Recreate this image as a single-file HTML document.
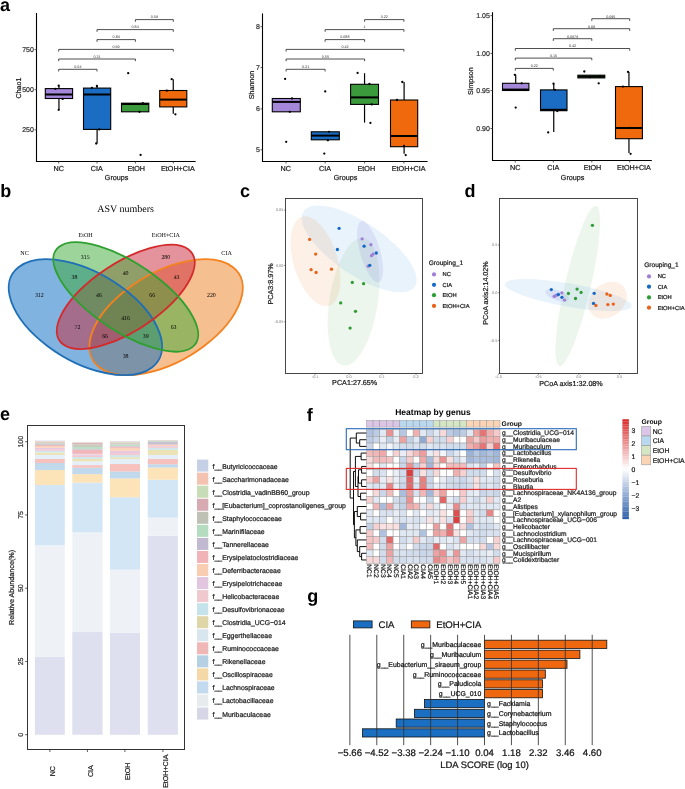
<!DOCTYPE html>
<html><head><meta charset="utf-8"><style>html,body{margin:0;padding:0;background:#fff;}svg{display:block;will-change:transform;}text{text-rendering:geometricPrecision;}</style></head>
<body><svg width="685" height="789" viewBox="0 0 685 789"><rect width="685" height="789" fill="#fff"/>
<text x="0.00" y="10.70" font-size="18" text-anchor="start" fill="#000" font-family="Liberation Sans" font-weight="bold">a</text>
<text x="0.30" y="197.30" font-size="18" text-anchor="start" fill="#000" font-family="Liberation Sans" font-weight="bold">b</text>
<text x="240.00" y="197.10" font-size="18" text-anchor="start" fill="#000" font-family="Liberation Sans" font-weight="bold">c</text>
<text x="464.60" y="196.70" font-size="18" text-anchor="start" fill="#000" font-family="Liberation Sans" font-weight="bold">d</text>
<text x="0.00" y="420.40" font-size="18" text-anchor="start" fill="#000" font-family="Liberation Sans" font-weight="bold">e</text>
<text x="306.80" y="420.50" font-size="18" text-anchor="start" fill="#000" font-family="Liberation Sans" font-weight="bold">f</text>
<text x="307.20" y="601.90" font-size="18" text-anchor="start" fill="#000" font-family="Liberation Sans" font-weight="bold">g</text>
<line x1="36.50" y1="13.00" x2="36.50" y2="162.00" stroke="#000" stroke-width="1.1"/>
<line x1="36.00" y1="161.50" x2="195.70" y2="161.50" stroke="#000" stroke-width="1.1"/>
<line x1="34.50" y1="49.60" x2="36.50" y2="49.60" stroke="#333" stroke-width="0.8"/>
<text x="33.90" y="52.10" font-size="7" text-anchor="end" fill="#333" font-family="Liberation Sans" stroke="#333" stroke-width="0.22">750</text>
<line x1="34.50" y1="89.70" x2="36.50" y2="89.70" stroke="#333" stroke-width="0.8"/>
<text x="33.90" y="92.20" font-size="7" text-anchor="end" fill="#333" font-family="Liberation Sans" stroke="#333" stroke-width="0.22">500</text>
<line x1="34.50" y1="129.90" x2="36.50" y2="129.90" stroke="#333" stroke-width="0.8"/>
<text x="33.90" y="132.40" font-size="7" text-anchor="end" fill="#333" font-family="Liberation Sans" stroke="#333" stroke-width="0.22">250</text>
<line x1="58.70" y1="161.50" x2="58.70" y2="163.50" stroke="#333" stroke-width="0.8"/>
<line x1="97.00" y1="161.50" x2="97.00" y2="163.50" stroke="#333" stroke-width="0.8"/>
<line x1="135.40" y1="161.50" x2="135.40" y2="163.50" stroke="#333" stroke-width="0.8"/>
<line x1="173.30" y1="161.50" x2="173.30" y2="163.50" stroke="#333" stroke-width="0.8"/>
<text x="58.70" y="170.50" font-size="7.2" text-anchor="middle" fill="#1a1a1a" font-family="Liberation Sans" stroke="#1a1a1a" stroke-width="0.22">NC</text>
<text x="96.80" y="170.50" font-size="7.2" text-anchor="middle" fill="#1a1a1a" font-family="Liberation Sans" stroke="#1a1a1a" stroke-width="0.22">CIA</text>
<text x="136.20" y="170.50" font-size="7.2" text-anchor="middle" fill="#1a1a1a" font-family="Liberation Sans" stroke="#1a1a1a" stroke-width="0.22">EtOH</text>
<text x="177.90" y="170.50" font-size="7.2" text-anchor="middle" fill="#1a1a1a" font-family="Liberation Sans" stroke="#1a1a1a" stroke-width="0.22">EtOH+CIA</text>
<text x="116.60" y="179.80" font-size="7.2" text-anchor="middle" fill="#1a1a1a" font-family="Liberation Sans" stroke="#1a1a1a" stroke-width="0.22">Groups</text>
<text x="20.50" y="88.00" font-size="7.1" text-anchor="middle" fill="#1a1a1a" font-family="Liberation Sans" transform="rotate(-90 20.50 88.00)" stroke="#1a1a1a" stroke-width="0.22">Chao1</text>
<line x1="58.95" y1="85.70" x2="58.95" y2="88.60" stroke="#000" stroke-width="1.2"/>
<line x1="58.95" y1="98.50" x2="58.95" y2="109.80" stroke="#000" stroke-width="1.2"/>
<rect x="45.30" y="88.60" width="27.30" height="9.90" fill="#a587d9" stroke="#000" stroke-width="1.1"/>
<line x1="45.30" y1="94.50" x2="72.60" y2="94.50" stroke="#000" stroke-width="2"/>
<line x1="97.10" y1="85.70" x2="97.10" y2="88.10" stroke="#000" stroke-width="1.2"/>
<line x1="97.10" y1="129.40" x2="97.10" y2="143.50" stroke="#000" stroke-width="1.2"/>
<rect x="83.50" y="88.10" width="27.20" height="41.30" fill="#1a6dc3" stroke="#000" stroke-width="1.1"/>
<line x1="83.50" y1="94.50" x2="110.70" y2="94.50" stroke="#000" stroke-width="2"/>
<rect x="121.50" y="103.20" width="27.30" height="8.60" fill="#3a9a3c" stroke="#000" stroke-width="1.1"/>
<line x1="121.50" y1="104.00" x2="148.80" y2="104.00" stroke="#000" stroke-width="2"/>
<line x1="173.25" y1="79.20" x2="173.25" y2="90.50" stroke="#000" stroke-width="1.2"/>
<line x1="173.25" y1="106.90" x2="173.25" y2="113.80" stroke="#000" stroke-width="1.2"/>
<rect x="159.70" y="90.50" width="27.10" height="16.40" fill="#f06a0d" stroke="#000" stroke-width="1.1"/>
<line x1="159.70" y1="99.60" x2="186.80" y2="99.60" stroke="#000" stroke-width="2"/>
<circle cx="58.70" cy="85.70" r="1.15" fill="#000"/>
<circle cx="55.40" cy="88.90" r="1.15" fill="#000"/>
<circle cx="62.70" cy="98.90" r="1.15" fill="#000"/>
<circle cx="58.70" cy="109.80" r="1.15" fill="#000"/>
<circle cx="96.90" cy="86.00" r="1.15" fill="#000"/>
<circle cx="91.90" cy="87.80" r="1.15" fill="#000"/>
<circle cx="99.30" cy="129.40" r="1.15" fill="#000"/>
<circle cx="96.20" cy="143.50" r="1.15" fill="#000"/>
<circle cx="128.20" cy="73.20" r="1.15" fill="#000"/>
<circle cx="139.50" cy="111.80" r="1.15" fill="#000"/>
<circle cx="140.60" cy="154.90" r="1.15" fill="#000"/>
<circle cx="142.80" cy="103.20" r="1.15" fill="#000"/>
<circle cx="171.70" cy="79.20" r="1.15" fill="#000"/>
<circle cx="166.80" cy="90.70" r="1.15" fill="#000"/>
<circle cx="175.40" cy="114.30" r="1.15" fill="#000"/>
<path d="M58.70 71.50V69.30H97.00V71.50" fill="none" stroke="#222" stroke-width="0.8"/>
<text x="77.85" y="68.10" font-size="3.7" text-anchor="middle" fill="#333" font-family="Liberation Sans">0.04</text>
<path d="M58.70 61.20V59.00H135.40V61.20" fill="none" stroke="#222" stroke-width="0.8"/>
<text x="97.05" y="57.80" font-size="3.7" text-anchor="middle" fill="#333" font-family="Liberation Sans">0.31</text>
<path d="M58.70 51.60V49.40H173.30V51.60" fill="none" stroke="#222" stroke-width="0.8"/>
<text x="116.00" y="48.20" font-size="3.7" text-anchor="middle" fill="#333" font-family="Liberation Sans">0.69</text>
<path d="M97.00 41.80V39.60H135.40V41.80" fill="none" stroke="#222" stroke-width="0.8"/>
<text x="116.20" y="38.40" font-size="3.7" text-anchor="middle" fill="#333" font-family="Liberation Sans">0.84</text>
<path d="M97.00 31.80V29.60H173.30V31.80" fill="none" stroke="#222" stroke-width="0.8"/>
<text x="135.15" y="28.40" font-size="3.7" text-anchor="middle" fill="#333" font-family="Liberation Sans">0.84</text>
<path d="M135.40 21.80V19.60H173.30V21.80" fill="none" stroke="#222" stroke-width="0.8"/>
<text x="154.35" y="18.40" font-size="3.7" text-anchor="middle" fill="#333" font-family="Liberation Sans">0.59</text>
<line x1="262.50" y1="13.40" x2="262.50" y2="162.00" stroke="#000" stroke-width="1.1"/>
<line x1="262.00" y1="161.50" x2="427.60" y2="161.50" stroke="#000" stroke-width="1.1"/>
<line x1="260.50" y1="26.70" x2="262.50" y2="26.70" stroke="#333" stroke-width="0.8"/>
<text x="259.90" y="29.20" font-size="7" text-anchor="end" fill="#333" font-family="Liberation Sans" stroke="#333" stroke-width="0.22">8</text>
<line x1="260.50" y1="67.60" x2="262.50" y2="67.60" stroke="#333" stroke-width="0.8"/>
<text x="259.90" y="70.10" font-size="7" text-anchor="end" fill="#333" font-family="Liberation Sans" stroke="#333" stroke-width="0.22">7</text>
<line x1="260.50" y1="108.90" x2="262.50" y2="108.90" stroke="#333" stroke-width="0.8"/>
<text x="259.90" y="111.40" font-size="7" text-anchor="end" fill="#333" font-family="Liberation Sans" stroke="#333" stroke-width="0.22">6</text>
<line x1="260.50" y1="149.80" x2="262.50" y2="149.80" stroke="#333" stroke-width="0.8"/>
<text x="259.90" y="152.30" font-size="7" text-anchor="end" fill="#333" font-family="Liberation Sans" stroke="#333" stroke-width="0.22">5</text>
<line x1="286.10" y1="161.50" x2="286.10" y2="163.50" stroke="#333" stroke-width="0.8"/>
<line x1="325.10" y1="161.50" x2="325.10" y2="163.50" stroke="#333" stroke-width="0.8"/>
<line x1="364.60" y1="161.50" x2="364.60" y2="163.50" stroke="#333" stroke-width="0.8"/>
<line x1="403.90" y1="161.50" x2="403.90" y2="163.50" stroke="#333" stroke-width="0.8"/>
<text x="285.80" y="170.50" font-size="7.2" text-anchor="middle" fill="#1a1a1a" font-family="Liberation Sans" stroke="#1a1a1a" stroke-width="0.22">NC</text>
<text x="325.00" y="170.50" font-size="7.2" text-anchor="middle" fill="#1a1a1a" font-family="Liberation Sans" stroke="#1a1a1a" stroke-width="0.22">CIA</text>
<text x="366.30" y="170.50" font-size="7.2" text-anchor="middle" fill="#1a1a1a" font-family="Liberation Sans" stroke="#1a1a1a" stroke-width="0.22">EtOH</text>
<text x="408.70" y="170.50" font-size="7.2" text-anchor="middle" fill="#1a1a1a" font-family="Liberation Sans" stroke="#1a1a1a" stroke-width="0.22">EtOH+CIA</text>
<text x="345.55" y="179.80" font-size="7.2" text-anchor="middle" fill="#1a1a1a" font-family="Liberation Sans" stroke="#1a1a1a" stroke-width="0.22">Groups</text>
<text x="253.50" y="85.00" font-size="7.1" text-anchor="middle" fill="#1a1a1a" font-family="Liberation Sans" transform="rotate(-90 253.50 85.00)" stroke="#1a1a1a" stroke-width="0.22">Shannon</text>
<rect x="272.30" y="98.50" width="28.00" height="13.30" fill="#a587d9" stroke="#000" stroke-width="1.1"/>
<line x1="272.30" y1="101.90" x2="300.30" y2="101.90" stroke="#000" stroke-width="2"/>
<rect x="311.30" y="131.80" width="28.00" height="8.00" fill="#1a6dc3" stroke="#000" stroke-width="1.1"/>
<line x1="311.30" y1="135.60" x2="339.30" y2="135.60" stroke="#000" stroke-width="2"/>
<line x1="364.55" y1="73.20" x2="364.55" y2="84.30" stroke="#000" stroke-width="1.2"/>
<line x1="364.55" y1="104.40" x2="364.55" y2="122.60" stroke="#000" stroke-width="1.2"/>
<rect x="350.60" y="84.30" width="27.90" height="20.10" fill="#3a9a3c" stroke="#000" stroke-width="1.1"/>
<line x1="350.60" y1="97.40" x2="378.50" y2="97.40" stroke="#000" stroke-width="2"/>
<line x1="404.10" y1="82.00" x2="404.10" y2="100.00" stroke="#000" stroke-width="1.2"/>
<line x1="404.10" y1="146.70" x2="404.10" y2="153.80" stroke="#000" stroke-width="1.2"/>
<rect x="390.50" y="100.00" width="27.20" height="46.70" fill="#f06a0d" stroke="#000" stroke-width="1.1"/>
<line x1="390.50" y1="136.00" x2="417.70" y2="136.00" stroke="#000" stroke-width="2"/>
<circle cx="285.10" cy="78.90" r="1.15" fill="#000"/>
<circle cx="292.00" cy="98.50" r="1.15" fill="#000"/>
<circle cx="289.80" cy="111.80" r="1.15" fill="#000"/>
<circle cx="286.20" cy="141.80" r="1.15" fill="#000"/>
<circle cx="325.20" cy="91.40" r="1.15" fill="#000"/>
<circle cx="324.30" cy="153.60" r="1.15" fill="#000"/>
<circle cx="327.90" cy="140.30" r="1.15" fill="#000"/>
<circle cx="329.00" cy="131.80" r="1.15" fill="#000"/>
<circle cx="357.60" cy="72.90" r="1.15" fill="#000"/>
<circle cx="369.40" cy="84.00" r="1.15" fill="#000"/>
<circle cx="371.70" cy="104.40" r="1.15" fill="#000"/>
<circle cx="370.40" cy="122.90" r="1.15" fill="#000"/>
<circle cx="402.30" cy="82.00" r="1.15" fill="#000"/>
<circle cx="397.00" cy="100.00" r="1.15" fill="#000"/>
<circle cx="404.00" cy="146.00" r="1.15" fill="#000"/>
<circle cx="405.70" cy="155.10" r="1.15" fill="#000"/>
<path d="M286.10 71.50V69.30H325.10V71.50" fill="none" stroke="#222" stroke-width="0.8"/>
<text x="305.60" y="68.10" font-size="3.7" text-anchor="middle" fill="#333" font-family="Liberation Sans">0.31</text>
<path d="M286.10 61.20V59.00H364.60V61.20" fill="none" stroke="#222" stroke-width="0.8"/>
<text x="325.35" y="57.80" font-size="3.7" text-anchor="middle" fill="#333" font-family="Liberation Sans">0.55</text>
<path d="M286.10 51.60V49.40H403.90V51.60" fill="none" stroke="#222" stroke-width="0.8"/>
<text x="345.00" y="48.20" font-size="3.7" text-anchor="middle" fill="#333" font-family="Liberation Sans">0.42</text>
<path d="M325.10 41.80V39.60H364.60V41.80" fill="none" stroke="#222" stroke-width="0.8"/>
<text x="344.85" y="38.40" font-size="3.7" text-anchor="middle" fill="#333" font-family="Liberation Sans">0.088</text>
<path d="M325.10 31.80V29.60H403.90V31.80" fill="none" stroke="#222" stroke-width="0.8"/>
<text x="364.50" y="28.40" font-size="3.7" text-anchor="middle" fill="#333" font-family="Liberation Sans">1</text>
<path d="M364.60 21.80V19.60H403.90V21.80" fill="none" stroke="#222" stroke-width="0.8"/>
<text x="384.25" y="18.40" font-size="3.7" text-anchor="middle" fill="#333" font-family="Liberation Sans">0.22</text>
<line x1="492.50" y1="12.20" x2="492.50" y2="161.00" stroke="#000" stroke-width="1.1"/>
<line x1="492.00" y1="160.50" x2="651.80" y2="160.50" stroke="#000" stroke-width="1.1"/>
<line x1="490.50" y1="15.60" x2="492.50" y2="15.60" stroke="#333" stroke-width="0.8"/>
<text x="489.90" y="18.10" font-size="7" text-anchor="end" fill="#333" font-family="Liberation Sans" stroke="#333" stroke-width="0.22">1.05</text>
<line x1="490.50" y1="53.40" x2="492.50" y2="53.40" stroke="#333" stroke-width="0.8"/>
<text x="489.90" y="55.90" font-size="7" text-anchor="end" fill="#333" font-family="Liberation Sans" stroke="#333" stroke-width="0.22">1.00</text>
<line x1="490.50" y1="90.50" x2="492.50" y2="90.50" stroke="#333" stroke-width="0.8"/>
<text x="489.90" y="93.00" font-size="7" text-anchor="end" fill="#333" font-family="Liberation Sans" stroke="#333" stroke-width="0.22">0.95</text>
<line x1="490.50" y1="128.50" x2="492.50" y2="128.50" stroke="#333" stroke-width="0.8"/>
<text x="489.90" y="131.00" font-size="7" text-anchor="end" fill="#333" font-family="Liberation Sans" stroke="#333" stroke-width="0.22">0.90</text>
<line x1="515.30" y1="160.50" x2="515.30" y2="162.50" stroke="#333" stroke-width="0.8"/>
<line x1="553.30" y1="160.50" x2="553.30" y2="162.50" stroke="#333" stroke-width="0.8"/>
<line x1="591.80" y1="160.50" x2="591.80" y2="162.50" stroke="#333" stroke-width="0.8"/>
<line x1="629.70" y1="160.50" x2="629.70" y2="162.50" stroke="#333" stroke-width="0.8"/>
<text x="515.30" y="169.50" font-size="7.2" text-anchor="middle" fill="#1a1a1a" font-family="Liberation Sans" stroke="#1a1a1a" stroke-width="0.22">NC</text>
<text x="553.30" y="169.50" font-size="7.2" text-anchor="middle" fill="#1a1a1a" font-family="Liberation Sans" stroke="#1a1a1a" stroke-width="0.22">CIA</text>
<text x="592.50" y="169.50" font-size="7.2" text-anchor="middle" fill="#1a1a1a" font-family="Liberation Sans" stroke="#1a1a1a" stroke-width="0.22">EtOH</text>
<text x="634.00" y="169.50" font-size="7.2" text-anchor="middle" fill="#1a1a1a" font-family="Liberation Sans" stroke="#1a1a1a" stroke-width="0.22">EtOH+CIA</text>
<text x="572.65" y="179.80" font-size="7.2" text-anchor="middle" fill="#1a1a1a" font-family="Liberation Sans" stroke="#1a1a1a" stroke-width="0.22">Groups</text>
<text x="473.50" y="81.10" font-size="7.1" text-anchor="middle" fill="#1a1a1a" font-family="Liberation Sans" transform="rotate(-90 473.50 81.10)" stroke="#1a1a1a" stroke-width="0.22">Simpson</text>
<line x1="515.70" y1="74.80" x2="515.70" y2="83.30" stroke="#000" stroke-width="1.2"/>
<rect x="502.50" y="83.30" width="26.40" height="7.20" fill="#a587d9" stroke="#000" stroke-width="1.1"/>
<line x1="502.50" y1="89.60" x2="528.90" y2="89.60" stroke="#000" stroke-width="2"/>
<line x1="553.75" y1="83.70" x2="553.75" y2="89.90" stroke="#000" stroke-width="1.2"/>
<line x1="553.75" y1="110.70" x2="553.75" y2="131.90" stroke="#000" stroke-width="1.2"/>
<rect x="540.50" y="89.90" width="26.50" height="20.80" fill="#1a6dc3" stroke="#000" stroke-width="1.1"/>
<line x1="540.50" y1="109.80" x2="567.00" y2="109.80" stroke="#000" stroke-width="2"/>
<rect x="577.90" y="75.20" width="26.90" height="2.70" fill="#3a9a3c" stroke="#000" stroke-width="1.1"/>
<line x1="577.90" y1="76.60" x2="604.80" y2="76.60" stroke="#000" stroke-width="2"/>
<line x1="628.95" y1="71.90" x2="628.95" y2="86.60" stroke="#000" stroke-width="1.2"/>
<line x1="628.95" y1="138.70" x2="628.95" y2="153.10" stroke="#000" stroke-width="1.2"/>
<rect x="615.50" y="86.60" width="26.90" height="52.10" fill="#f06a0d" stroke="#000" stroke-width="1.1"/>
<line x1="615.50" y1="128.00" x2="642.40" y2="128.00" stroke="#000" stroke-width="2"/>
<circle cx="514.80" cy="74.80" r="1.15" fill="#000"/>
<circle cx="521.70" cy="83.30" r="1.15" fill="#000"/>
<circle cx="515.70" cy="107.60" r="1.15" fill="#000"/>
<circle cx="525.00" cy="90.00" r="1.15" fill="#000"/>
<circle cx="553.50" cy="83.70" r="1.15" fill="#000"/>
<circle cx="548.20" cy="132.40" r="1.15" fill="#000"/>
<circle cx="557.30" cy="111.00" r="1.15" fill="#000"/>
<circle cx="555.00" cy="89.90" r="1.15" fill="#000"/>
<circle cx="584.30" cy="71.50" r="1.15" fill="#000"/>
<circle cx="598.70" cy="83.30" r="1.15" fill="#000"/>
<circle cx="600.00" cy="76.50" r="1.15" fill="#000"/>
<circle cx="590.00" cy="77.00" r="1.15" fill="#000"/>
<circle cx="628.00" cy="71.90" r="1.15" fill="#000"/>
<circle cx="622.90" cy="86.60" r="1.15" fill="#000"/>
<circle cx="630.60" cy="153.80" r="1.15" fill="#000"/>
<circle cx="630.00" cy="128.00" r="1.15" fill="#000"/>
<path d="M515.30 70.60V68.40H553.30V70.60" fill="none" stroke="#222" stroke-width="0.8"/>
<text x="534.30" y="67.20" font-size="3.7" text-anchor="middle" fill="#333" font-family="Liberation Sans">0.22</text>
<path d="M515.30 60.30V58.10H591.80V60.30" fill="none" stroke="#222" stroke-width="0.8"/>
<text x="553.55" y="56.90" font-size="3.7" text-anchor="middle" fill="#333" font-family="Liberation Sans">0.15</text>
<path d="M515.30 50.70V48.50H629.70V50.70" fill="none" stroke="#222" stroke-width="0.8"/>
<text x="572.50" y="47.30" font-size="3.7" text-anchor="middle" fill="#333" font-family="Liberation Sans">0.42</text>
<path d="M553.30 40.90V38.70H591.80V40.90" fill="none" stroke="#222" stroke-width="0.8"/>
<text x="572.55" y="37.50" font-size="3.7" text-anchor="middle" fill="#333" font-family="Liberation Sans">0.0079</text>
<path d="M553.30 30.90V28.70H629.70V30.90" fill="none" stroke="#222" stroke-width="0.8"/>
<text x="591.50" y="27.50" font-size="3.7" text-anchor="middle" fill="#333" font-family="Liberation Sans">0.69</text>
<path d="M591.80 20.90V18.70H629.70V20.90" fill="none" stroke="#222" stroke-width="0.8"/>
<text x="610.75" y="17.50" font-size="3.7" text-anchor="middle" fill="#333" font-family="Liberation Sans">0.095</text>
<g transform="translate(-8.75 412.6) scale(269.0 -203.0)"><ellipse cx="0.65" cy="0.47" rx="0.35" ry="0.2" transform="rotate(45 0.65 0.47)" fill="#ee7f22" fill-opacity="0.5"/></g>
<g transform="translate(-8.75 412.6) scale(269.0 -203.0)"><ellipse cx="0.35" cy="0.47" rx="0.35" ry="0.2" transform="rotate(135 0.35 0.47)" fill="#0268c0" fill-opacity="0.5"/></g>
<g transform="translate(-8.75 412.6) scale(269.0 -203.0)"><ellipse cx="0.5" cy="0.57" rx="0.33" ry="0.15" transform="rotate(45 0.5 0.57)" fill="#c9283a" fill-opacity="0.5"/></g>
<g transform="translate(-8.75 412.6) scale(269.0 -203.0)"><ellipse cx="0.5" cy="0.57" rx="0.35" ry="0.15" transform="rotate(135 0.5 0.57)" fill="#3ba936" fill-opacity="0.5"/></g>
<g transform="translate(-8.75 412.6) scale(269.0 -203.0)"><ellipse cx="0.65" cy="0.47" rx="0.35" ry="0.2" transform="rotate(45 0.65 0.47)" fill="none" stroke="#f4821e" stroke-width="1.85" vector-effect="non-scaling-stroke"/></g>
<g transform="translate(-8.75 412.6) scale(269.0 -203.0)"><ellipse cx="0.35" cy="0.47" rx="0.35" ry="0.2" transform="rotate(135 0.35 0.47)" fill="none" stroke="#1f6fb8" stroke-width="1.85" vector-effect="non-scaling-stroke"/></g>
<g transform="translate(-8.75 412.6) scale(269.0 -203.0)"><ellipse cx="0.5" cy="0.57" rx="0.33" ry="0.15" transform="rotate(45 0.5 0.57)" fill="none" stroke="#d42a2c" stroke-width="1.85" vector-effect="non-scaling-stroke"/></g>
<g transform="translate(-8.75 412.6) scale(269.0 -203.0)"><ellipse cx="0.5" cy="0.57" rx="0.35" ry="0.15" transform="rotate(135 0.5 0.57)" fill="none" stroke="#2fa02f" stroke-width="1.85" vector-effect="non-scaling-stroke"/></g>
<text x="125.60" y="212.30" font-size="10" text-anchor="middle" fill="#000" font-family="Liberation Serif">ASV numbers</text>
<text x="24.60" y="255.00" font-size="6.1" text-anchor="middle" fill="#000" font-family="Liberation Serif">NC</text>
<text x="85.60" y="237.30" font-size="6.1" text-anchor="middle" fill="#000" font-family="Liberation Serif">EtOH</text>
<text x="165.80" y="237.30" font-size="6.1" text-anchor="middle" fill="#000" font-family="Liberation Serif">EtOH+CIA</text>
<text x="226.60" y="255.00" font-size="6.1" text-anchor="middle" fill="#000" font-family="Liberation Serif">CIA</text>
<text x="85.20" y="259.10" font-size="5.9" text-anchor="middle" fill="#000" font-family="Liberation Serif">315</text>
<text x="165.80" y="259.10" font-size="5.9" text-anchor="middle" fill="#000" font-family="Liberation Serif">280</text>
<text x="39.30" y="297.20" font-size="5.9" text-anchor="middle" fill="#000" font-family="Liberation Serif">312</text>
<text x="211.40" y="297.20" font-size="5.9" text-anchor="middle" fill="#000" font-family="Liberation Serif">220</text>
<text x="74.40" y="279.00" font-size="5.9" text-anchor="middle" fill="#000" font-family="Liberation Serif">38</text>
<text x="125.60" y="275.20" font-size="5.9" text-anchor="middle" fill="#000" font-family="Liberation Serif">40</text>
<text x="176.60" y="279.00" font-size="5.9" text-anchor="middle" fill="#000" font-family="Liberation Serif">43</text>
<text x="99.00" y="297.20" font-size="5.9" text-anchor="middle" fill="#000" font-family="Liberation Serif">46</text>
<text x="152.20" y="297.20" font-size="5.9" text-anchor="middle" fill="#000" font-family="Liberation Serif">66</text>
<text x="125.60" y="319.60" font-size="5.9" text-anchor="middle" fill="#000" font-family="Liberation Serif">416</text>
<text x="77.40" y="329.40" font-size="5.9" text-anchor="middle" fill="#000" font-family="Liberation Serif">72</text>
<text x="173.60" y="329.40" font-size="5.9" text-anchor="middle" fill="#000" font-family="Liberation Serif">63</text>
<text x="105.10" y="337.80" font-size="5.9" text-anchor="middle" fill="#000" font-family="Liberation Serif">66</text>
<text x="145.80" y="337.80" font-size="5.9" text-anchor="middle" fill="#000" font-family="Liberation Serif">39</text>
<text x="125.60" y="357.90" font-size="5.9" text-anchor="middle" fill="#000" font-family="Liberation Serif">38</text>
<rect x="285.50" y="198.50" width="137.00" height="175.00" fill="#fff" stroke="none" stroke-width="0"/>
<ellipse cx="359.10" cy="248.90" rx="67.20" ry="26.00" transform="rotate(34.1 359.10 248.90)" fill="#2a86e0" stroke="none" stroke-width="0" fill-opacity="0.1"/>
<ellipse cx="315.50" cy="261.20" rx="46.40" ry="22.00" transform="rotate(73.4 315.50 261.20)" fill="#f06a0d" stroke="none" stroke-width="0" fill-opacity="0.1"/>
<ellipse cx="353.50" cy="301.75" rx="64.60" ry="24.20" transform="rotate(-81.1 353.50 301.75)" fill="#3a9a3c" stroke="none" stroke-width="0" fill-opacity="0.09"/>
<ellipse cx="370.10" cy="251.70" rx="31.80" ry="10.00" transform="rotate(73.9 370.10 251.70)" fill="#6d5fd0" stroke="none" stroke-width="0" fill-opacity="0.12"/>
<circle cx="362.10" cy="238.80" r="1.65" fill="#9f80d6"/>
<circle cx="370.90" cy="244.70" r="1.65" fill="#9f80d6"/>
<circle cx="371.50" cy="255.70" r="1.65" fill="#9f80d6"/>
<circle cx="373.10" cy="254.10" r="1.65" fill="#9f80d6"/>
<circle cx="368.20" cy="266.20" r="1.65" fill="#9f80d6"/>
<circle cx="339.10" cy="228.30" r="1.65" fill="#1569c7"/>
<circle cx="337.40" cy="249.50" r="1.65" fill="#1569c7"/>
<circle cx="364.10" cy="246.20" r="1.65" fill="#1569c7"/>
<circle cx="376.30" cy="253.00" r="1.65" fill="#1569c7"/>
<circle cx="369.80" cy="265.30" r="1.65" fill="#1569c7"/>
<circle cx="352.30" cy="282.40" r="1.65" fill="#2e9c35"/>
<circle cx="363.60" cy="283.70" r="1.65" fill="#2e9c35"/>
<circle cx="340.70" cy="302.90" r="1.65" fill="#2e9c35"/>
<circle cx="355.50" cy="311.30" r="1.65" fill="#2e9c35"/>
<circle cx="350.10" cy="328.10" r="1.65" fill="#2e9c35"/>
<circle cx="309.60" cy="239.40" r="1.65" fill="#e8621a"/>
<circle cx="315.70" cy="254.10" r="1.65" fill="#e8621a"/>
<circle cx="311.10" cy="269.70" r="1.65" fill="#e8621a"/>
<circle cx="316.10" cy="272.50" r="1.65" fill="#e8621a"/>
<circle cx="331.50" cy="269.20" r="1.65" fill="#e8621a"/>
<rect x="285.50" y="198.50" width="137.00" height="175.00" fill="none" stroke="#333" stroke-width="0.9"/>
<line x1="284.00" y1="210.00" x2="285.50" y2="210.00" stroke="#333" stroke-width="0.5"/>
<text x="283.30" y="211.40" font-size="3.8" text-anchor="end" fill="#777" font-family="Liberation Sans">0.05</text>
<line x1="284.00" y1="265.50" x2="285.50" y2="265.50" stroke="#333" stroke-width="0.5"/>
<text x="283.30" y="266.90" font-size="3.8" text-anchor="end" fill="#777" font-family="Liberation Sans">0.00</text>
<line x1="284.00" y1="321.70" x2="285.50" y2="321.70" stroke="#333" stroke-width="0.5"/>
<text x="283.30" y="323.10" font-size="3.8" text-anchor="end" fill="#777" font-family="Liberation Sans">-0.05</text>
<line x1="315.20" y1="373.50" x2="315.20" y2="375.00" stroke="#333" stroke-width="0.5"/>
<text x="315.20" y="378.30" font-size="3.8" text-anchor="middle" fill="#777" font-family="Liberation Sans">-0.1</text>
<line x1="349.00" y1="373.50" x2="349.00" y2="375.00" stroke="#333" stroke-width="0.5"/>
<text x="349.00" y="378.30" font-size="3.8" text-anchor="middle" fill="#777" font-family="Liberation Sans">0.0</text>
<line x1="382.00" y1="373.50" x2="382.00" y2="375.00" stroke="#333" stroke-width="0.5"/>
<text x="382.00" y="378.30" font-size="3.8" text-anchor="middle" fill="#777" font-family="Liberation Sans">0.1</text>
<line x1="416.00" y1="373.50" x2="416.00" y2="375.00" stroke="#333" stroke-width="0.5"/>
<text x="416.00" y="378.30" font-size="3.8" text-anchor="middle" fill="#777" font-family="Liberation Sans">0.2</text>
<text x="272.80" y="284.00" font-size="7.2" text-anchor="middle" fill="#1a1a1a" font-family="Liberation Sans" transform="rotate(-90 272.80 284.00)" stroke="#1a1a1a" stroke-width="0.22">PCA3:8.97%</text>
<text x="354.70" y="385.00" font-size="7.2" text-anchor="middle" fill="#1a1a1a" font-family="Liberation Sans" stroke="#1a1a1a" stroke-width="0.22">PCA1:27.65%</text>
<text x="428.70" y="264.80" font-size="6.6" text-anchor="start" fill="#1a1a1a" font-family="Liberation Sans" stroke="#1a1a1a" stroke-width="0.22">Grouping_1</text>
<circle cx="434.00" cy="274.40" r="2.1" fill="#9f80d6"/>
<text x="442.50" y="276.40" font-size="5.75" text-anchor="start" fill="#1a1a1a" font-family="Liberation Sans" stroke="#1a1a1a" stroke-width="0.22">NC</text>
<circle cx="434.00" cy="284.80" r="2.1" fill="#1569c7"/>
<text x="442.50" y="286.80" font-size="5.75" text-anchor="start" fill="#1a1a1a" font-family="Liberation Sans" stroke="#1a1a1a" stroke-width="0.22">CIA</text>
<circle cx="434.00" cy="295.20" r="2.1" fill="#2e9c35"/>
<text x="442.50" y="297.20" font-size="5.75" text-anchor="start" fill="#1a1a1a" font-family="Liberation Sans" stroke="#1a1a1a" stroke-width="0.22">EtOH</text>
<circle cx="434.00" cy="305.90" r="2.1" fill="#e8621a"/>
<text x="442.50" y="307.90" font-size="5.75" text-anchor="start" fill="#1a1a1a" font-family="Liberation Sans" stroke="#1a1a1a" stroke-width="0.22">EtOH+CIA</text>
<rect x="499.50" y="198.50" width="138.00" height="175.00" fill="#fff" stroke="none" stroke-width="0"/>
<ellipse cx="568.25" cy="295.05" rx="64.30" ry="11.65" transform="rotate(10.05 568.25 295.05)" fill="#2a86e0" stroke="none" stroke-width="0" fill-opacity="0.1"/>
<ellipse cx="577.75" cy="285.95" rx="82.20" ry="12.90" transform="rotate(-77.05 577.75 285.95)" fill="#3a9a3c" stroke="none" stroke-width="0" fill-opacity="0.09"/>
<ellipse cx="607.65" cy="300.25" rx="21.00" ry="16.50" transform="rotate(-40 607.65 300.25)" fill="#f06a0d" stroke="none" stroke-width="0" fill-opacity="0.1"/>
<ellipse cx="557.20" cy="295.40" rx="12.50" ry="5.00" transform="rotate(20 557.20 295.40)" fill="#6d5fd0" stroke="none" stroke-width="0" fill-opacity="0.12"/>
<circle cx="555.10" cy="295.90" r="1.65" fill="#9f80d6"/>
<circle cx="556.50" cy="295.20" r="1.65" fill="#9f80d6"/>
<circle cx="561.90" cy="292.80" r="1.65" fill="#9f80d6"/>
<circle cx="564.50" cy="300.10" r="1.65" fill="#9f80d6"/>
<circle cx="554.10" cy="296.40" r="1.65" fill="#9f80d6"/>
<circle cx="551.30" cy="289.60" r="1.65" fill="#1569c7"/>
<circle cx="558.40" cy="294.50" r="1.65" fill="#1569c7"/>
<circle cx="561.90" cy="297.30" r="1.65" fill="#1569c7"/>
<circle cx="594.20" cy="293.30" r="1.65" fill="#1569c7"/>
<circle cx="593.50" cy="303.40" r="1.65" fill="#1569c7"/>
<circle cx="592.40" cy="225.30" r="1.65" fill="#2e9c35"/>
<circle cx="568.40" cy="293.50" r="1.65" fill="#2e9c35"/>
<circle cx="577.10" cy="289.10" r="1.65" fill="#2e9c35"/>
<circle cx="581.10" cy="292.40" r="1.65" fill="#2e9c35"/>
<circle cx="575.50" cy="298.50" r="1.65" fill="#2e9c35"/>
<circle cx="606.90" cy="294.00" r="1.65" fill="#e8621a"/>
<circle cx="610.20" cy="295.40" r="1.65" fill="#e8621a"/>
<circle cx="595.90" cy="305.50" r="1.65" fill="#e8621a"/>
<circle cx="607.90" cy="304.60" r="1.65" fill="#e8621a"/>
<circle cx="613.30" cy="304.10" r="1.65" fill="#e8621a"/>
<rect x="499.50" y="198.50" width="138.00" height="175.00" fill="none" stroke="#333" stroke-width="0.9"/>
<line x1="498.00" y1="245.00" x2="499.50" y2="245.00" stroke="#333" stroke-width="0.5"/>
<text x="497.30" y="246.40" font-size="3.8" text-anchor="end" fill="#777" font-family="Liberation Sans">0.5</text>
<line x1="498.00" y1="292.80" x2="499.50" y2="292.80" stroke="#333" stroke-width="0.5"/>
<text x="497.30" y="294.20" font-size="3.8" text-anchor="end" fill="#777" font-family="Liberation Sans">0.0</text>
<line x1="498.00" y1="340.50" x2="499.50" y2="340.50" stroke="#333" stroke-width="0.5"/>
<text x="497.30" y="341.90" font-size="3.8" text-anchor="end" fill="#777" font-family="Liberation Sans">-0.5</text>
<line x1="498.50" y1="373.50" x2="498.50" y2="375.00" stroke="#333" stroke-width="0.5"/>
<text x="498.50" y="378.30" font-size="3.8" text-anchor="middle" fill="#777" font-family="Liberation Sans">-1.0</text>
<line x1="538.40" y1="373.50" x2="538.40" y2="375.00" stroke="#333" stroke-width="0.5"/>
<text x="538.40" y="378.30" font-size="3.8" text-anchor="middle" fill="#777" font-family="Liberation Sans">-0.5</text>
<line x1="578.80" y1="373.50" x2="578.80" y2="375.00" stroke="#333" stroke-width="0.5"/>
<text x="578.80" y="378.30" font-size="3.8" text-anchor="middle" fill="#777" font-family="Liberation Sans">0.0</text>
<line x1="619.40" y1="373.50" x2="619.40" y2="375.00" stroke="#333" stroke-width="0.5"/>
<text x="619.40" y="378.30" font-size="3.8" text-anchor="middle" fill="#777" font-family="Liberation Sans">0.5</text>
<text x="488.30" y="293.00" font-size="7.2" text-anchor="middle" fill="#1a1a1a" font-family="Liberation Sans" transform="rotate(-90 488.30 293.00)" stroke="#1a1a1a" stroke-width="0.22">PCoA axis2:14.02%</text>
<text x="571.00" y="386.00" font-size="7.2" text-anchor="middle" fill="#1a1a1a" font-family="Liberation Sans" stroke="#1a1a1a" stroke-width="0.22">PCoA axis1:32.08%</text>
<text x="644.20" y="267.20" font-size="6.6" text-anchor="start" fill="#1a1a1a" font-family="Liberation Sans" stroke="#1a1a1a" stroke-width="0.22">Grouping_1</text>
<circle cx="649.00" cy="276.40" r="2.1" fill="#9f80d6"/>
<text x="657.70" y="278.40" font-size="5.75" text-anchor="start" fill="#1a1a1a" font-family="Liberation Sans" stroke="#1a1a1a" stroke-width="0.22">NC</text>
<circle cx="649.00" cy="286.70" r="2.1" fill="#1569c7"/>
<text x="657.70" y="288.70" font-size="5.75" text-anchor="start" fill="#1a1a1a" font-family="Liberation Sans" stroke="#1a1a1a" stroke-width="0.22">CIA</text>
<circle cx="649.00" cy="297.40" r="2.1" fill="#2e9c35"/>
<text x="657.70" y="299.40" font-size="5.75" text-anchor="start" fill="#1a1a1a" font-family="Liberation Sans" stroke="#1a1a1a" stroke-width="0.22">EtOH</text>
<circle cx="649.00" cy="307.70" r="2.1" fill="#e8621a"/>
<text x="657.70" y="309.70" font-size="5.75" text-anchor="start" fill="#1a1a1a" font-family="Liberation Sans" stroke="#1a1a1a" stroke-width="0.22">EtOH+CIA</text>
<rect x="34.90" y="656.80" width="29.90" height="77.95" fill="#dfe0ef" stroke="none" stroke-width="0"/>
<rect x="34.90" y="545.00" width="29.90" height="111.85" fill="#eef2f7" stroke="none" stroke-width="0"/>
<rect x="34.90" y="485.00" width="29.90" height="60.05" fill="#d3e6f6" stroke="none" stroke-width="0"/>
<rect x="34.90" y="470.00" width="29.90" height="15.05" fill="#fde3b8" stroke="none" stroke-width="0"/>
<rect x="34.90" y="463.00" width="29.90" height="7.05" fill="#c0d9ec" stroke="none" stroke-width="0"/>
<rect x="34.90" y="458.90" width="29.90" height="4.15" fill="#f7c2bd" stroke="none" stroke-width="0"/>
<rect x="34.90" y="454.90" width="29.90" height="4.05" fill="#e4eff9" stroke="none" stroke-width="0"/>
<rect x="34.90" y="452.50" width="29.90" height="2.45" fill="#ece3b5" stroke="none" stroke-width="0"/>
<rect x="34.90" y="450.80" width="29.90" height="1.75" fill="#cfe8ec" stroke="none" stroke-width="0"/>
<rect x="34.90" y="449.20" width="29.90" height="1.65" fill="#f3c8cf" stroke="none" stroke-width="0"/>
<rect x="34.90" y="447.80" width="29.90" height="1.45" fill="#e6c8e3" stroke="none" stroke-width="0"/>
<rect x="34.90" y="446.10" width="29.90" height="1.75" fill="#fbd3bb" stroke="none" stroke-width="0"/>
<rect x="34.90" y="445.00" width="29.90" height="1.15" fill="#f0b7bb" stroke="none" stroke-width="0"/>
<rect x="34.90" y="444.20" width="29.90" height="0.85" fill="#c9bfd2" stroke="none" stroke-width="0"/>
<rect x="34.90" y="443.60" width="29.90" height="0.65" fill="#bfdfc8" stroke="none" stroke-width="0"/>
<rect x="34.90" y="443.00" width="29.90" height="0.65" fill="#c5cdbf" stroke="none" stroke-width="0"/>
<rect x="34.90" y="442.30" width="29.90" height="0.75" fill="#dcb3b9" stroke="none" stroke-width="0"/>
<rect x="34.90" y="441.70" width="29.90" height="0.65" fill="#cfe0bf" stroke="none" stroke-width="0"/>
<rect x="34.90" y="441.10" width="29.90" height="0.65" fill="#f6cbb9" stroke="none" stroke-width="0"/>
<rect x="34.90" y="440.60" width="29.90" height="0.55" fill="#cdd6ea" stroke="none" stroke-width="0"/>
<rect x="72.30" y="632.00" width="30.30" height="102.75" fill="#dfe0ef" stroke="none" stroke-width="0"/>
<rect x="72.30" y="532.20" width="30.30" height="99.85" fill="#eef2f7" stroke="none" stroke-width="0"/>
<rect x="72.30" y="482.60" width="30.30" height="49.65" fill="#d3e6f6" stroke="none" stroke-width="0"/>
<rect x="72.30" y="474.10" width="30.30" height="8.55" fill="#fde3b8" stroke="none" stroke-width="0"/>
<rect x="72.30" y="467.70" width="30.30" height="6.45" fill="#c0d9ec" stroke="none" stroke-width="0"/>
<rect x="72.30" y="465.10" width="30.30" height="2.65" fill="#f7c2bd" stroke="none" stroke-width="0"/>
<rect x="72.30" y="461.30" width="30.30" height="3.85" fill="#e4eff9" stroke="none" stroke-width="0"/>
<rect x="72.30" y="458.90" width="30.30" height="2.45" fill="#ece3b5" stroke="none" stroke-width="0"/>
<rect x="72.30" y="457.00" width="30.30" height="1.95" fill="#cfe8ec" stroke="none" stroke-width="0"/>
<rect x="72.30" y="455.80" width="30.30" height="1.25" fill="#f3c8cf" stroke="none" stroke-width="0"/>
<rect x="72.30" y="454.30" width="30.30" height="1.55" fill="#e6c8e3" stroke="none" stroke-width="0"/>
<rect x="72.30" y="453.80" width="30.30" height="0.55" fill="#fbd3bb" stroke="none" stroke-width="0"/>
<rect x="72.30" y="449.60" width="30.30" height="4.25" fill="#f0b7bb" stroke="none" stroke-width="0"/>
<rect x="72.30" y="449.00" width="30.30" height="0.65" fill="#c9bfd2" stroke="none" stroke-width="0"/>
<rect x="72.30" y="447.00" width="30.30" height="2.05" fill="#bfdfc8" stroke="none" stroke-width="0"/>
<rect x="72.30" y="444.30" width="30.30" height="2.75" fill="#c5cdbf" stroke="none" stroke-width="0"/>
<rect x="72.30" y="443.00" width="30.30" height="1.35" fill="#dcb3b9" stroke="none" stroke-width="0"/>
<rect x="72.30" y="442.60" width="30.30" height="0.45" fill="#cfe0bf" stroke="none" stroke-width="0"/>
<rect x="72.30" y="442.20" width="30.30" height="0.45" fill="#f6cbb9" stroke="none" stroke-width="0"/>
<rect x="72.30" y="442.00" width="30.30" height="0.25" fill="#cdd6ea" stroke="none" stroke-width="0"/>
<rect x="109.90" y="632.80" width="30.10" height="101.95" fill="#dfe0ef" stroke="none" stroke-width="0"/>
<rect x="109.90" y="569.60" width="30.10" height="63.25" fill="#eef2f7" stroke="none" stroke-width="0"/>
<rect x="109.90" y="497.20" width="30.10" height="72.45" fill="#d3e6f6" stroke="none" stroke-width="0"/>
<rect x="109.90" y="478.40" width="30.10" height="18.85" fill="#fde3b8" stroke="none" stroke-width="0"/>
<rect x="109.90" y="471.40" width="30.10" height="7.05" fill="#c0d9ec" stroke="none" stroke-width="0"/>
<rect x="109.90" y="464.00" width="30.10" height="7.45" fill="#f7c2bd" stroke="none" stroke-width="0"/>
<rect x="109.90" y="458.90" width="30.10" height="5.15" fill="#e4eff9" stroke="none" stroke-width="0"/>
<rect x="109.90" y="457.20" width="30.10" height="1.75" fill="#ece3b5" stroke="none" stroke-width="0"/>
<rect x="109.90" y="455.10" width="30.10" height="2.15" fill="#cfe8ec" stroke="none" stroke-width="0"/>
<rect x="109.90" y="453.10" width="30.10" height="2.05" fill="#f3c8cf" stroke="none" stroke-width="0"/>
<rect x="109.90" y="450.80" width="30.10" height="2.35" fill="#e6c8e3" stroke="none" stroke-width="0"/>
<rect x="109.90" y="447.80" width="30.10" height="3.05" fill="#fbd3bb" stroke="none" stroke-width="0"/>
<rect x="109.90" y="446.50" width="30.10" height="1.35" fill="#f0b7bb" stroke="none" stroke-width="0"/>
<rect x="109.90" y="446.00" width="30.10" height="0.55" fill="#c9bfd2" stroke="none" stroke-width="0"/>
<rect x="109.90" y="444.50" width="30.10" height="1.55" fill="#bfdfc8" stroke="none" stroke-width="0"/>
<rect x="109.90" y="443.50" width="30.10" height="1.05" fill="#c5cdbf" stroke="none" stroke-width="0"/>
<rect x="109.90" y="442.70" width="30.10" height="0.85" fill="#dcb3b9" stroke="none" stroke-width="0"/>
<rect x="109.90" y="442.00" width="30.10" height="0.75" fill="#cfe0bf" stroke="none" stroke-width="0"/>
<rect x="109.90" y="441.50" width="30.10" height="0.55" fill="#f6cbb9" stroke="none" stroke-width="0"/>
<rect x="109.90" y="441.10" width="30.10" height="0.45" fill="#cdd6ea" stroke="none" stroke-width="0"/>
<rect x="147.80" y="535.70" width="30.10" height="199.05" fill="#dfe0ef" stroke="none" stroke-width="0"/>
<rect x="147.80" y="517.60" width="30.10" height="18.15" fill="#eef2f7" stroke="none" stroke-width="0"/>
<rect x="147.80" y="479.70" width="30.10" height="37.95" fill="#d3e6f6" stroke="none" stroke-width="0"/>
<rect x="147.80" y="467.50" width="30.10" height="12.25" fill="#fde3b8" stroke="none" stroke-width="0"/>
<rect x="147.80" y="464.20" width="30.10" height="3.35" fill="#c0d9ec" stroke="none" stroke-width="0"/>
<rect x="147.80" y="458.90" width="30.10" height="5.35" fill="#f7c2bd" stroke="none" stroke-width="0"/>
<rect x="147.80" y="454.90" width="30.10" height="4.05" fill="#e4eff9" stroke="none" stroke-width="0"/>
<rect x="147.80" y="449.90" width="30.10" height="5.05" fill="#ece3b5" stroke="none" stroke-width="0"/>
<rect x="147.80" y="447.80" width="30.10" height="2.15" fill="#cfe8ec" stroke="none" stroke-width="0"/>
<rect x="147.80" y="446.90" width="30.10" height="0.95" fill="#f3c8cf" stroke="none" stroke-width="0"/>
<rect x="147.80" y="446.10" width="30.10" height="0.85" fill="#e6c8e3" stroke="none" stroke-width="0"/>
<rect x="147.80" y="444.90" width="30.10" height="1.25" fill="#fbd3bb" stroke="none" stroke-width="0"/>
<rect x="147.80" y="444.50" width="30.10" height="0.45" fill="#f0b7bb" stroke="none" stroke-width="0"/>
<rect x="147.80" y="442.00" width="30.10" height="2.55" fill="#c9bfd2" stroke="none" stroke-width="0"/>
<rect x="147.80" y="441.20" width="30.10" height="0.85" fill="#bfdfc8" stroke="none" stroke-width="0"/>
<rect x="147.80" y="440.90" width="30.10" height="0.35" fill="#c5cdbf" stroke="none" stroke-width="0"/>
<rect x="147.80" y="440.60" width="30.10" height="0.35" fill="#dcb3b9" stroke="none" stroke-width="0"/>
<rect x="147.80" y="440.50" width="30.10" height="0.15" fill="#cfe0bf" stroke="none" stroke-width="0"/>
<rect x="147.80" y="440.40" width="30.10" height="0.15" fill="#f6cbb9" stroke="none" stroke-width="0"/>
<rect x="147.80" y="440.30" width="30.10" height="0.15" fill="#cdd6ea" stroke="none" stroke-width="0"/>
<rect x="27.50" y="425.50" width="157.00" height="324.00" fill="none" stroke="#333" stroke-width="1"/>
<line x1="25.20" y1="734.70" x2="27.50" y2="734.70" stroke="#333" stroke-width="0.8"/>
<text x="23.00" y="734.70" font-size="7" text-anchor="middle" fill="#333" font-family="Liberation Sans" transform="rotate(-90 23.00 734.70)" stroke="#333" stroke-width="0.22">0</text>
<line x1="25.20" y1="661.45" x2="27.50" y2="661.45" stroke="#333" stroke-width="0.8"/>
<text x="23.00" y="661.45" font-size="7" text-anchor="middle" fill="#333" font-family="Liberation Sans" transform="rotate(-90 23.00 661.45)" stroke="#333" stroke-width="0.22">25</text>
<line x1="25.20" y1="588.20" x2="27.50" y2="588.20" stroke="#333" stroke-width="0.8"/>
<text x="23.00" y="588.20" font-size="7" text-anchor="middle" fill="#333" font-family="Liberation Sans" transform="rotate(-90 23.00 588.20)" stroke="#333" stroke-width="0.22">50</text>
<line x1="25.20" y1="514.95" x2="27.50" y2="514.95" stroke="#333" stroke-width="0.8"/>
<text x="23.00" y="514.95" font-size="7" text-anchor="middle" fill="#333" font-family="Liberation Sans" transform="rotate(-90 23.00 514.95)" stroke="#333" stroke-width="0.22">75</text>
<line x1="25.20" y1="441.70" x2="27.50" y2="441.70" stroke="#333" stroke-width="0.8"/>
<text x="23.00" y="441.70" font-size="7" text-anchor="middle" fill="#333" font-family="Liberation Sans" transform="rotate(-90 23.00 441.70)" stroke="#333" stroke-width="0.22">100</text>
<line x1="49.90" y1="749.40" x2="49.90" y2="752.00" stroke="#333" stroke-width="0.8"/>
<line x1="87.40" y1="749.40" x2="87.40" y2="752.00" stroke="#333" stroke-width="0.8"/>
<line x1="124.90" y1="749.40" x2="124.90" y2="752.00" stroke="#333" stroke-width="0.8"/>
<line x1="162.90" y1="749.40" x2="162.90" y2="752.00" stroke="#333" stroke-width="0.8"/>
<text x="55.20" y="771.20" font-size="7.1" text-anchor="middle" fill="#1a1a1a" font-family="Liberation Sans" transform="rotate(-90 55.20 771.20)" stroke="#1a1a1a" stroke-width="0.22">NC</text>
<text x="92.70" y="771.20" font-size="7.1" text-anchor="middle" fill="#1a1a1a" font-family="Liberation Sans" transform="rotate(-90 92.70 771.20)" stroke="#1a1a1a" stroke-width="0.22">CIA</text>
<text x="130.10" y="771.20" font-size="7.1" text-anchor="middle" fill="#1a1a1a" font-family="Liberation Sans" transform="rotate(-90 130.10 771.20)" stroke="#1a1a1a" stroke-width="0.22">EtOH</text>
<text x="168.10" y="771.20" font-size="7.1" text-anchor="middle" fill="#1a1a1a" font-family="Liberation Sans" transform="rotate(-90 168.10 771.20)" stroke="#1a1a1a" stroke-width="0.22">EtOH+CIA</text>
<text x="14.20" y="587.50" font-size="7.2" text-anchor="middle" fill="#1a1a1a" font-family="Liberation Sans" transform="rotate(-90 14.20 587.50)" stroke="#1a1a1a" stroke-width="0.22">Relative Abundance(%)</text>
<rect x="197.00" y="459.60" width="11.30" height="12.00" fill="#c5d0e6" stroke="none" stroke-width="0"/>
<text x="212.60" y="468.55" font-size="6.9" text-anchor="start" fill="#1a1a1a" font-family="Liberation Sans" stroke="#1a1a1a" stroke-width="0.22">f__Butyricicoccaceae</text>
<rect x="197.00" y="472.65" width="11.30" height="12.00" fill="#f4c2b0" stroke="none" stroke-width="0"/>
<text x="212.60" y="481.60" font-size="6.9" text-anchor="start" fill="#1a1a1a" font-family="Liberation Sans" stroke="#1a1a1a" stroke-width="0.22">f__Saccharimonadaceae</text>
<rect x="197.00" y="485.70" width="11.30" height="12.00" fill="#c8dcb7" stroke="none" stroke-width="0"/>
<text x="212.60" y="494.65" font-size="6.9" text-anchor="start" fill="#1a1a1a" font-family="Liberation Sans" stroke="#1a1a1a" stroke-width="0.22">f__Clostridia_vadinBB60_group</text>
<rect x="197.00" y="498.75" width="11.30" height="12.00" fill="#d7a9b1" stroke="none" stroke-width="0"/>
<text x="212.60" y="507.70" font-size="6.9" text-anchor="start" fill="#1a1a1a" font-family="Liberation Sans" stroke="#1a1a1a" stroke-width="0.22">f__[Eubacterium]_coprostanoligenes_group</text>
<rect x="197.00" y="511.80" width="11.30" height="12.00" fill="#bfc1b5" stroke="none" stroke-width="0"/>
<text x="212.60" y="520.75" font-size="6.9" text-anchor="start" fill="#1a1a1a" font-family="Liberation Sans" stroke="#1a1a1a" stroke-width="0.22">f__Staphylococcaceae</text>
<rect x="197.00" y="524.85" width="11.30" height="12.00" fill="#b5dcc0" stroke="none" stroke-width="0"/>
<text x="212.60" y="533.80" font-size="6.9" text-anchor="start" fill="#1a1a1a" font-family="Liberation Sans" stroke="#1a1a1a" stroke-width="0.22">f__Marinifilaceae</text>
<rect x="197.00" y="537.90" width="11.30" height="12.00" fill="#c0b9d0" stroke="none" stroke-width="0"/>
<text x="212.60" y="546.85" font-size="6.9" text-anchor="start" fill="#1a1a1a" font-family="Liberation Sans" stroke="#1a1a1a" stroke-width="0.22">f__Tannerellaceae</text>
<rect x="197.00" y="550.95" width="11.30" height="12.00" fill="#f0b3b8" stroke="none" stroke-width="0"/>
<text x="212.60" y="559.90" font-size="6.9" text-anchor="start" fill="#1a1a1a" font-family="Liberation Sans" stroke="#1a1a1a" stroke-width="0.22">f__Erysipelatoclostridiaceae</text>
<rect x="197.00" y="564.00" width="11.30" height="12.00" fill="#f8cdb2" stroke="none" stroke-width="0"/>
<text x="212.60" y="572.95" font-size="6.9" text-anchor="start" fill="#1a1a1a" font-family="Liberation Sans" stroke="#1a1a1a" stroke-width="0.22">f__Deferribacteraceae</text>
<rect x="197.00" y="577.05" width="11.30" height="12.00" fill="#e2c6e0" stroke="none" stroke-width="0"/>
<text x="212.60" y="586.00" font-size="6.9" text-anchor="start" fill="#1a1a1a" font-family="Liberation Sans" stroke="#1a1a1a" stroke-width="0.22">f__Erysipelotrichaceae</text>
<rect x="197.00" y="590.10" width="11.30" height="12.00" fill="#f0c8d0" stroke="none" stroke-width="0"/>
<text x="212.60" y="599.05" font-size="6.9" text-anchor="start" fill="#1a1a1a" font-family="Liberation Sans" stroke="#1a1a1a" stroke-width="0.22">f__Helicobacteraceae</text>
<rect x="197.00" y="603.15" width="11.30" height="12.00" fill="#c5e3ea" stroke="none" stroke-width="0"/>
<text x="212.60" y="612.10" font-size="6.9" text-anchor="start" fill="#1a1a1a" font-family="Liberation Sans" stroke="#1a1a1a" stroke-width="0.22">f__Desulfovibrionaceae</text>
<rect x="197.00" y="616.20" width="11.30" height="12.00" fill="#dfd6a8" stroke="none" stroke-width="0"/>
<text x="212.60" y="625.15" font-size="6.9" text-anchor="start" fill="#1a1a1a" font-family="Liberation Sans" stroke="#1a1a1a" stroke-width="0.22">f__Clostridia_UCG−014</text>
<rect x="197.00" y="629.25" width="11.30" height="12.00" fill="#d9e6f0" stroke="none" stroke-width="0"/>
<text x="212.60" y="638.20" font-size="6.9" text-anchor="start" fill="#1a1a1a" font-family="Liberation Sans" stroke="#1a1a1a" stroke-width="0.22">f__Eggerthellaceae</text>
<rect x="197.00" y="642.30" width="11.30" height="12.00" fill="#efb8b6" stroke="none" stroke-width="0"/>
<text x="212.60" y="651.25" font-size="6.9" text-anchor="start" fill="#1a1a1a" font-family="Liberation Sans" stroke="#1a1a1a" stroke-width="0.22">f__Ruminococcaceae</text>
<rect x="197.00" y="655.35" width="11.30" height="12.00" fill="#b5cfe3" stroke="none" stroke-width="0"/>
<text x="212.60" y="664.30" font-size="6.9" text-anchor="start" fill="#1a1a1a" font-family="Liberation Sans" stroke="#1a1a1a" stroke-width="0.22">f__Rikenellaceae</text>
<rect x="197.00" y="668.40" width="11.30" height="12.00" fill="#f5d8a8" stroke="none" stroke-width="0"/>
<text x="212.60" y="677.35" font-size="6.9" text-anchor="start" fill="#1a1a1a" font-family="Liberation Sans" stroke="#1a1a1a" stroke-width="0.22">f__Oscillospiraceae</text>
<rect x="197.00" y="681.45" width="11.30" height="12.00" fill="#c4daee" stroke="none" stroke-width="0"/>
<text x="212.60" y="690.40" font-size="6.9" text-anchor="start" fill="#1a1a1a" font-family="Liberation Sans" stroke="#1a1a1a" stroke-width="0.22">f__Lachnospiraceae</text>
<rect x="197.00" y="694.50" width="11.30" height="12.00" fill="#e8ebee" stroke="none" stroke-width="0"/>
<text x="212.60" y="703.45" font-size="6.9" text-anchor="start" fill="#1a1a1a" font-family="Liberation Sans" stroke="#1a1a1a" stroke-width="0.22">f__Lactobacillaceae</text>
<rect x="197.00" y="707.55" width="11.30" height="12.00" fill="#d6d6e6" stroke="none" stroke-width="0"/>
<text x="212.60" y="716.50" font-size="6.9" text-anchor="start" fill="#1a1a1a" font-family="Liberation Sans" stroke="#1a1a1a" stroke-width="0.22">f__Muribaculaceae</text>
<rect x="366.40" y="420.40" width="6.68" height="6.70" fill="#dcc6e8" stroke="#999" stroke-width="0.5"/>
<rect x="373.08" y="420.40" width="6.68" height="6.70" fill="#dcc6e8" stroke="#999" stroke-width="0.5"/>
<rect x="379.76" y="420.40" width="6.68" height="6.70" fill="#dcc6e8" stroke="#999" stroke-width="0.5"/>
<rect x="386.44" y="420.40" width="6.68" height="6.70" fill="#dcc6e8" stroke="#999" stroke-width="0.5"/>
<rect x="393.12" y="420.40" width="6.68" height="6.70" fill="#dcc6e8" stroke="#999" stroke-width="0.5"/>
<rect x="399.80" y="420.40" width="6.68" height="6.70" fill="#b9d9f1" stroke="#999" stroke-width="0.5"/>
<rect x="406.48" y="420.40" width="6.68" height="6.70" fill="#b9d9f1" stroke="#999" stroke-width="0.5"/>
<rect x="413.16" y="420.40" width="6.68" height="6.70" fill="#b9d9f1" stroke="#999" stroke-width="0.5"/>
<rect x="419.84" y="420.40" width="6.68" height="6.70" fill="#b9d9f1" stroke="#999" stroke-width="0.5"/>
<rect x="426.52" y="420.40" width="6.68" height="6.70" fill="#b9d9f1" stroke="#999" stroke-width="0.5"/>
<rect x="433.20" y="420.40" width="6.68" height="6.70" fill="#d4e6c4" stroke="#999" stroke-width="0.5"/>
<rect x="439.88" y="420.40" width="6.68" height="6.70" fill="#d4e6c4" stroke="#999" stroke-width="0.5"/>
<rect x="446.56" y="420.40" width="6.68" height="6.70" fill="#d4e6c4" stroke="#999" stroke-width="0.5"/>
<rect x="453.24" y="420.40" width="6.68" height="6.70" fill="#d4e6c4" stroke="#999" stroke-width="0.5"/>
<rect x="459.92" y="420.40" width="6.68" height="6.70" fill="#d4e6c4" stroke="#999" stroke-width="0.5"/>
<rect x="466.60" y="420.40" width="6.68" height="6.70" fill="#fbd3b5" stroke="#999" stroke-width="0.5"/>
<rect x="473.28" y="420.40" width="6.68" height="6.70" fill="#fbd3b5" stroke="#999" stroke-width="0.5"/>
<rect x="479.96" y="420.40" width="6.68" height="6.70" fill="#fbd3b5" stroke="#999" stroke-width="0.5"/>
<rect x="486.64" y="420.40" width="6.68" height="6.70" fill="#fbd3b5" stroke="#999" stroke-width="0.5"/>
<rect x="493.32" y="420.40" width="6.68" height="6.70" fill="#fbd3b5" stroke="#999" stroke-width="0.5"/>
<rect x="366.40" y="429.70" width="6.68" height="6.68" fill="#afc2df" stroke="#9a9a9a" stroke-width="0.5"/>
<rect x="373.08" y="429.70" width="6.68" height="6.68" fill="#bccce4" stroke="#9a9a9a" stroke-width="0.5"/>
<rect x="379.76" y="429.70" width="6.68" height="6.68" fill="#e0e8f3" stroke="#9a9a9a" stroke-width="0.5"/>
<rect x="386.44" y="429.70" width="6.68" height="6.68" fill="#eb9191" stroke="#9a9a9a" stroke-width="0.5"/>
<rect x="393.12" y="429.70" width="6.68" height="6.68" fill="#e9eef6" stroke="#9a9a9a" stroke-width="0.5"/>
<rect x="399.80" y="429.70" width="6.68" height="6.68" fill="#b5c7e2" stroke="#9a9a9a" stroke-width="0.5"/>
<rect x="406.48" y="429.70" width="6.68" height="6.68" fill="#ffffff" stroke="#9a9a9a" stroke-width="0.5"/>
<rect x="413.16" y="429.70" width="6.68" height="6.68" fill="#f1afaf" stroke="#9a9a9a" stroke-width="0.5"/>
<rect x="419.84" y="429.70" width="6.68" height="6.68" fill="#e0e8f3" stroke="#9a9a9a" stroke-width="0.5"/>
<rect x="426.52" y="429.70" width="6.68" height="6.68" fill="#cad6ea" stroke="#9a9a9a" stroke-width="0.5"/>
<rect x="433.20" y="429.70" width="6.68" height="6.68" fill="#e0e8f3" stroke="#9a9a9a" stroke-width="0.5"/>
<rect x="439.88" y="429.70" width="6.68" height="6.68" fill="#f8d9d9" stroke="#9a9a9a" stroke-width="0.5"/>
<rect x="446.56" y="429.70" width="6.68" height="6.68" fill="#bccce4" stroke="#9a9a9a" stroke-width="0.5"/>
<rect x="453.24" y="429.70" width="6.68" height="6.68" fill="#afc2df" stroke="#9a9a9a" stroke-width="0.5"/>
<rect x="459.92" y="429.70" width="6.68" height="6.68" fill="#bccce4" stroke="#9a9a9a" stroke-width="0.5"/>
<rect x="466.60" y="429.70" width="6.68" height="6.68" fill="#e0e8f3" stroke="#9a9a9a" stroke-width="0.5"/>
<rect x="473.28" y="429.70" width="6.68" height="6.68" fill="#eea3a3" stroke="#9a9a9a" stroke-width="0.5"/>
<rect x="479.96" y="429.70" width="6.68" height="6.68" fill="#e67474" stroke="#9a9a9a" stroke-width="0.5"/>
<rect x="486.64" y="429.70" width="6.68" height="6.68" fill="#f1afaf" stroke="#9a9a9a" stroke-width="0.5"/>
<rect x="493.32" y="429.70" width="6.68" height="6.68" fill="#f6caca" stroke="#9a9a9a" stroke-width="0.5"/>
<rect x="366.40" y="436.38" width="6.68" height="6.68" fill="#bccce4" stroke="#9a9a9a" stroke-width="0.5"/>
<rect x="373.08" y="436.38" width="6.68" height="6.68" fill="#cad6ea" stroke="#9a9a9a" stroke-width="0.5"/>
<rect x="379.76" y="436.38" width="6.68" height="6.68" fill="#e9eef6" stroke="#9a9a9a" stroke-width="0.5"/>
<rect x="386.44" y="436.38" width="6.68" height="6.68" fill="#c3d1e7" stroke="#9a9a9a" stroke-width="0.5"/>
<rect x="393.12" y="436.38" width="6.68" height="6.68" fill="#e9eef6" stroke="#9a9a9a" stroke-width="0.5"/>
<rect x="399.80" y="436.38" width="6.68" height="6.68" fill="#eea3a3" stroke="#9a9a9a" stroke-width="0.5"/>
<rect x="406.48" y="436.38" width="6.68" height="6.68" fill="#c3d1e7" stroke="#9a9a9a" stroke-width="0.5"/>
<rect x="413.16" y="436.38" width="6.68" height="6.68" fill="#e0e8f3" stroke="#9a9a9a" stroke-width="0.5"/>
<rect x="419.84" y="436.38" width="6.68" height="6.68" fill="#90aad3" stroke="#9a9a9a" stroke-width="0.5"/>
<rect x="426.52" y="436.38" width="6.68" height="6.68" fill="#f7d1d1" stroke="#9a9a9a" stroke-width="0.5"/>
<rect x="433.20" y="436.38" width="6.68" height="6.68" fill="#d1dced" stroke="#9a9a9a" stroke-width="0.5"/>
<rect x="439.88" y="436.38" width="6.68" height="6.68" fill="#d1dced" stroke="#9a9a9a" stroke-width="0.5"/>
<rect x="446.56" y="436.38" width="6.68" height="6.68" fill="#f7d1d1" stroke="#9a9a9a" stroke-width="0.5"/>
<rect x="453.24" y="436.38" width="6.68" height="6.68" fill="#ffffff" stroke="#9a9a9a" stroke-width="0.5"/>
<rect x="459.92" y="436.38" width="6.68" height="6.68" fill="#ffffff" stroke="#9a9a9a" stroke-width="0.5"/>
<rect x="466.60" y="436.38" width="6.68" height="6.68" fill="#eea3a3" stroke="#9a9a9a" stroke-width="0.5"/>
<rect x="473.28" y="436.38" width="6.68" height="6.68" fill="#f6caca" stroke="#9a9a9a" stroke-width="0.5"/>
<rect x="479.96" y="436.38" width="6.68" height="6.68" fill="#ed9d9d" stroke="#9a9a9a" stroke-width="0.5"/>
<rect x="486.64" y="436.38" width="6.68" height="6.68" fill="#f1afaf" stroke="#9a9a9a" stroke-width="0.5"/>
<rect x="493.32" y="436.38" width="6.68" height="6.68" fill="#f1afaf" stroke="#9a9a9a" stroke-width="0.5"/>
<rect x="366.40" y="443.06" width="6.68" height="6.68" fill="#cad6ea" stroke="#9a9a9a" stroke-width="0.5"/>
<rect x="373.08" y="443.06" width="6.68" height="6.68" fill="#ffffff" stroke="#9a9a9a" stroke-width="0.5"/>
<rect x="379.76" y="443.06" width="6.68" height="6.68" fill="#e0e8f3" stroke="#9a9a9a" stroke-width="0.5"/>
<rect x="386.44" y="443.06" width="6.68" height="6.68" fill="#f2f5fa" stroke="#9a9a9a" stroke-width="0.5"/>
<rect x="393.12" y="443.06" width="6.68" height="6.68" fill="#e0e8f3" stroke="#9a9a9a" stroke-width="0.5"/>
<rect x="399.80" y="443.06" width="6.68" height="6.68" fill="#d1dced" stroke="#9a9a9a" stroke-width="0.5"/>
<rect x="406.48" y="443.06" width="6.68" height="6.68" fill="#d1dced" stroke="#9a9a9a" stroke-width="0.5"/>
<rect x="413.16" y="443.06" width="6.68" height="6.68" fill="#d9e2f0" stroke="#9a9a9a" stroke-width="0.5"/>
<rect x="419.84" y="443.06" width="6.68" height="6.68" fill="#d1dced" stroke="#9a9a9a" stroke-width="0.5"/>
<rect x="426.52" y="443.06" width="6.68" height="6.68" fill="#e0e8f3" stroke="#9a9a9a" stroke-width="0.5"/>
<rect x="433.20" y="443.06" width="6.68" height="6.68" fill="#d9e2f0" stroke="#9a9a9a" stroke-width="0.5"/>
<rect x="439.88" y="443.06" width="6.68" height="6.68" fill="#d9e2f0" stroke="#9a9a9a" stroke-width="0.5"/>
<rect x="446.56" y="443.06" width="6.68" height="6.68" fill="#d1dced" stroke="#9a9a9a" stroke-width="0.5"/>
<rect x="453.24" y="443.06" width="6.68" height="6.68" fill="#d1dced" stroke="#9a9a9a" stroke-width="0.5"/>
<rect x="459.92" y="443.06" width="6.68" height="6.68" fill="#d1dced" stroke="#9a9a9a" stroke-width="0.5"/>
<rect x="466.60" y="443.06" width="6.68" height="6.68" fill="#f1afaf" stroke="#9a9a9a" stroke-width="0.5"/>
<rect x="473.28" y="443.06" width="6.68" height="6.68" fill="#ed9d9d" stroke="#9a9a9a" stroke-width="0.5"/>
<rect x="479.96" y="443.06" width="6.68" height="6.68" fill="#e67474" stroke="#9a9a9a" stroke-width="0.5"/>
<rect x="486.64" y="443.06" width="6.68" height="6.68" fill="#f7d1d1" stroke="#9a9a9a" stroke-width="0.5"/>
<rect x="493.32" y="443.06" width="6.68" height="6.68" fill="#e67474" stroke="#9a9a9a" stroke-width="0.5"/>
<rect x="366.40" y="449.74" width="6.68" height="6.68" fill="#f3bcbc" stroke="#9a9a9a" stroke-width="0.5"/>
<rect x="373.08" y="449.74" width="6.68" height="6.68" fill="#f2b6b6" stroke="#9a9a9a" stroke-width="0.5"/>
<rect x="379.76" y="449.74" width="6.68" height="6.68" fill="#f0a9a9" stroke="#9a9a9a" stroke-width="0.5"/>
<rect x="386.44" y="449.74" width="6.68" height="6.68" fill="#ffffff" stroke="#9a9a9a" stroke-width="0.5"/>
<rect x="393.12" y="449.74" width="6.68" height="6.68" fill="#f7d1d1" stroke="#9a9a9a" stroke-width="0.5"/>
<rect x="399.80" y="449.74" width="6.68" height="6.68" fill="#e9eef6" stroke="#9a9a9a" stroke-width="0.5"/>
<rect x="406.48" y="449.74" width="6.68" height="6.68" fill="#f8d9d9" stroke="#9a9a9a" stroke-width="0.5"/>
<rect x="413.16" y="449.74" width="6.68" height="6.68" fill="#f3bcbc" stroke="#9a9a9a" stroke-width="0.5"/>
<rect x="419.84" y="449.74" width="6.68" height="6.68" fill="#ed9d9d" stroke="#9a9a9a" stroke-width="0.5"/>
<rect x="426.52" y="449.74" width="6.68" height="6.68" fill="#e9eef6" stroke="#9a9a9a" stroke-width="0.5"/>
<rect x="433.20" y="449.74" width="6.68" height="6.68" fill="#fae1e1" stroke="#9a9a9a" stroke-width="0.5"/>
<rect x="439.88" y="449.74" width="6.68" height="6.68" fill="#f2f5fa" stroke="#9a9a9a" stroke-width="0.5"/>
<rect x="446.56" y="449.74" width="6.68" height="6.68" fill="#cad6ea" stroke="#9a9a9a" stroke-width="0.5"/>
<rect x="453.24" y="449.74" width="6.68" height="6.68" fill="#e0e8f3" stroke="#9a9a9a" stroke-width="0.5"/>
<rect x="459.92" y="449.74" width="6.68" height="6.68" fill="#ffffff" stroke="#9a9a9a" stroke-width="0.5"/>
<rect x="466.60" y="449.74" width="6.68" height="6.68" fill="#9cb3d8" stroke="#9a9a9a" stroke-width="0.5"/>
<rect x="473.28" y="449.74" width="6.68" height="6.68" fill="#b5c7e2" stroke="#9a9a9a" stroke-width="0.5"/>
<rect x="479.96" y="449.74" width="6.68" height="6.68" fill="#a2b8da" stroke="#9a9a9a" stroke-width="0.5"/>
<rect x="486.64" y="449.74" width="6.68" height="6.68" fill="#afc2df" stroke="#9a9a9a" stroke-width="0.5"/>
<rect x="493.32" y="449.74" width="6.68" height="6.68" fill="#a2b8da" stroke="#9a9a9a" stroke-width="0.5"/>
<rect x="366.40" y="456.42" width="6.68" height="6.68" fill="#f8d9d9" stroke="#9a9a9a" stroke-width="0.5"/>
<rect x="373.08" y="456.42" width="6.68" height="6.68" fill="#f3bcbc" stroke="#9a9a9a" stroke-width="0.5"/>
<rect x="379.76" y="456.42" width="6.68" height="6.68" fill="#f3bcbc" stroke="#9a9a9a" stroke-width="0.5"/>
<rect x="386.44" y="456.42" width="6.68" height="6.68" fill="#f4c3c3" stroke="#9a9a9a" stroke-width="0.5"/>
<rect x="393.12" y="456.42" width="6.68" height="6.68" fill="#ffffff" stroke="#9a9a9a" stroke-width="0.5"/>
<rect x="399.80" y="456.42" width="6.68" height="6.68" fill="#cad6ea" stroke="#9a9a9a" stroke-width="0.5"/>
<rect x="406.48" y="456.42" width="6.68" height="6.68" fill="#f6caca" stroke="#9a9a9a" stroke-width="0.5"/>
<rect x="413.16" y="456.42" width="6.68" height="6.68" fill="#ffffff" stroke="#9a9a9a" stroke-width="0.5"/>
<rect x="419.84" y="456.42" width="6.68" height="6.68" fill="#f0a9a9" stroke="#9a9a9a" stroke-width="0.5"/>
<rect x="426.52" y="456.42" width="6.68" height="6.68" fill="#a9bddd" stroke="#9a9a9a" stroke-width="0.5"/>
<rect x="433.20" y="456.42" width="6.68" height="6.68" fill="#f8d9d9" stroke="#9a9a9a" stroke-width="0.5"/>
<rect x="439.88" y="456.42" width="6.68" height="6.68" fill="#eb9191" stroke="#9a9a9a" stroke-width="0.5"/>
<rect x="446.56" y="456.42" width="6.68" height="6.68" fill="#fae1e1" stroke="#9a9a9a" stroke-width="0.5"/>
<rect x="453.24" y="456.42" width="6.68" height="6.68" fill="#d1dced" stroke="#9a9a9a" stroke-width="0.5"/>
<rect x="459.92" y="456.42" width="6.68" height="6.68" fill="#e9eef6" stroke="#9a9a9a" stroke-width="0.5"/>
<rect x="466.60" y="456.42" width="6.68" height="6.68" fill="#a2b8da" stroke="#9a9a9a" stroke-width="0.5"/>
<rect x="473.28" y="456.42" width="6.68" height="6.68" fill="#afc2df" stroke="#9a9a9a" stroke-width="0.5"/>
<rect x="479.96" y="456.42" width="6.68" height="6.68" fill="#a9bddd" stroke="#9a9a9a" stroke-width="0.5"/>
<rect x="486.64" y="456.42" width="6.68" height="6.68" fill="#a9bddd" stroke="#9a9a9a" stroke-width="0.5"/>
<rect x="493.32" y="456.42" width="6.68" height="6.68" fill="#a2b8da" stroke="#9a9a9a" stroke-width="0.5"/>
<rect x="366.40" y="463.10" width="6.68" height="6.68" fill="#fae1e1" stroke="#9a9a9a" stroke-width="0.5"/>
<rect x="373.08" y="463.10" width="6.68" height="6.68" fill="#ffffff" stroke="#9a9a9a" stroke-width="0.5"/>
<rect x="379.76" y="463.10" width="6.68" height="6.68" fill="#e0e8f3" stroke="#9a9a9a" stroke-width="0.5"/>
<rect x="386.44" y="463.10" width="6.68" height="6.68" fill="#ffffff" stroke="#9a9a9a" stroke-width="0.5"/>
<rect x="393.12" y="463.10" width="6.68" height="6.68" fill="#ffffff" stroke="#9a9a9a" stroke-width="0.5"/>
<rect x="399.80" y="463.10" width="6.68" height="6.68" fill="#cad6ea" stroke="#9a9a9a" stroke-width="0.5"/>
<rect x="406.48" y="463.10" width="6.68" height="6.68" fill="#eb9191" stroke="#9a9a9a" stroke-width="0.5"/>
<rect x="413.16" y="463.10" width="6.68" height="6.68" fill="#c3d1e7" stroke="#9a9a9a" stroke-width="0.5"/>
<rect x="419.84" y="463.10" width="6.68" height="6.68" fill="#f7d1d1" stroke="#9a9a9a" stroke-width="0.5"/>
<rect x="426.52" y="463.10" width="6.68" height="6.68" fill="#a2b8da" stroke="#9a9a9a" stroke-width="0.5"/>
<rect x="433.20" y="463.10" width="6.68" height="6.68" fill="#f8d9d9" stroke="#9a9a9a" stroke-width="0.5"/>
<rect x="439.88" y="463.10" width="6.68" height="6.68" fill="#ffffff" stroke="#9a9a9a" stroke-width="0.5"/>
<rect x="446.56" y="463.10" width="6.68" height="6.68" fill="#f3bcbc" stroke="#9a9a9a" stroke-width="0.5"/>
<rect x="453.24" y="463.10" width="6.68" height="6.68" fill="#f3bcbc" stroke="#9a9a9a" stroke-width="0.5"/>
<rect x="459.92" y="463.10" width="6.68" height="6.68" fill="#f3bcbc" stroke="#9a9a9a" stroke-width="0.5"/>
<rect x="466.60" y="463.10" width="6.68" height="6.68" fill="#d9e2f0" stroke="#9a9a9a" stroke-width="0.5"/>
<rect x="473.28" y="463.10" width="6.68" height="6.68" fill="#e9eef6" stroke="#9a9a9a" stroke-width="0.5"/>
<rect x="479.96" y="463.10" width="6.68" height="6.68" fill="#c3d1e7" stroke="#9a9a9a" stroke-width="0.5"/>
<rect x="486.64" y="463.10" width="6.68" height="6.68" fill="#ffffff" stroke="#9a9a9a" stroke-width="0.5"/>
<rect x="493.32" y="463.10" width="6.68" height="6.68" fill="#f4c3c3" stroke="#9a9a9a" stroke-width="0.5"/>
<rect x="366.40" y="469.78" width="6.68" height="6.68" fill="#ffffff" stroke="#9a9a9a" stroke-width="0.5"/>
<rect x="373.08" y="469.78" width="6.68" height="6.68" fill="#d1dced" stroke="#9a9a9a" stroke-width="0.5"/>
<rect x="379.76" y="469.78" width="6.68" height="6.68" fill="#d9e2f0" stroke="#9a9a9a" stroke-width="0.5"/>
<rect x="386.44" y="469.78" width="6.68" height="6.68" fill="#ffffff" stroke="#9a9a9a" stroke-width="0.5"/>
<rect x="393.12" y="469.78" width="6.68" height="6.68" fill="#e9eef6" stroke="#9a9a9a" stroke-width="0.5"/>
<rect x="399.80" y="469.78" width="6.68" height="6.68" fill="#d1dced" stroke="#9a9a9a" stroke-width="0.5"/>
<rect x="406.48" y="469.78" width="6.68" height="6.68" fill="#dd3f3f" stroke="#9a9a9a" stroke-width="0.5"/>
<rect x="413.16" y="469.78" width="6.68" height="6.68" fill="#cad6ea" stroke="#9a9a9a" stroke-width="0.5"/>
<rect x="419.84" y="469.78" width="6.68" height="6.68" fill="#fae1e1" stroke="#9a9a9a" stroke-width="0.5"/>
<rect x="426.52" y="469.78" width="6.68" height="6.68" fill="#d1dced" stroke="#9a9a9a" stroke-width="0.5"/>
<rect x="433.20" y="469.78" width="6.68" height="6.68" fill="#f8d9d9" stroke="#9a9a9a" stroke-width="0.5"/>
<rect x="439.88" y="469.78" width="6.68" height="6.68" fill="#ffffff" stroke="#9a9a9a" stroke-width="0.5"/>
<rect x="446.56" y="469.78" width="6.68" height="6.68" fill="#ffffff" stroke="#9a9a9a" stroke-width="0.5"/>
<rect x="453.24" y="469.78" width="6.68" height="6.68" fill="#f1afaf" stroke="#9a9a9a" stroke-width="0.5"/>
<rect x="459.92" y="469.78" width="6.68" height="6.68" fill="#f7d1d1" stroke="#9a9a9a" stroke-width="0.5"/>
<rect x="466.60" y="469.78" width="6.68" height="6.68" fill="#d1dced" stroke="#9a9a9a" stroke-width="0.5"/>
<rect x="473.28" y="469.78" width="6.68" height="6.68" fill="#d1dced" stroke="#9a9a9a" stroke-width="0.5"/>
<rect x="479.96" y="469.78" width="6.68" height="6.68" fill="#d1dced" stroke="#9a9a9a" stroke-width="0.5"/>
<rect x="486.64" y="469.78" width="6.68" height="6.68" fill="#ffffff" stroke="#9a9a9a" stroke-width="0.5"/>
<rect x="493.32" y="469.78" width="6.68" height="6.68" fill="#d9e2f0" stroke="#9a9a9a" stroke-width="0.5"/>
<rect x="366.40" y="476.46" width="6.68" height="6.68" fill="#f7d1d1" stroke="#9a9a9a" stroke-width="0.5"/>
<rect x="373.08" y="476.46" width="6.68" height="6.68" fill="#eea3a3" stroke="#9a9a9a" stroke-width="0.5"/>
<rect x="379.76" y="476.46" width="6.68" height="6.68" fill="#e9eef6" stroke="#9a9a9a" stroke-width="0.5"/>
<rect x="386.44" y="476.46" width="6.68" height="6.68" fill="#fae1e1" stroke="#9a9a9a" stroke-width="0.5"/>
<rect x="393.12" y="476.46" width="6.68" height="6.68" fill="#e9eef6" stroke="#9a9a9a" stroke-width="0.5"/>
<rect x="399.80" y="476.46" width="6.68" height="6.68" fill="#d1dced" stroke="#9a9a9a" stroke-width="0.5"/>
<rect x="406.48" y="476.46" width="6.68" height="6.68" fill="#e36464" stroke="#9a9a9a" stroke-width="0.5"/>
<rect x="413.16" y="476.46" width="6.68" height="6.68" fill="#e9eef6" stroke="#9a9a9a" stroke-width="0.5"/>
<rect x="419.84" y="476.46" width="6.68" height="6.68" fill="#e88080" stroke="#9a9a9a" stroke-width="0.5"/>
<rect x="426.52" y="476.46" width="6.68" height="6.68" fill="#cad6ea" stroke="#9a9a9a" stroke-width="0.5"/>
<rect x="433.20" y="476.46" width="6.68" height="6.68" fill="#ffffff" stroke="#9a9a9a" stroke-width="0.5"/>
<rect x="439.88" y="476.46" width="6.68" height="6.68" fill="#e9eef6" stroke="#9a9a9a" stroke-width="0.5"/>
<rect x="446.56" y="476.46" width="6.68" height="6.68" fill="#d1dced" stroke="#9a9a9a" stroke-width="0.5"/>
<rect x="453.24" y="476.46" width="6.68" height="6.68" fill="#d1dced" stroke="#9a9a9a" stroke-width="0.5"/>
<rect x="459.92" y="476.46" width="6.68" height="6.68" fill="#cad6ea" stroke="#9a9a9a" stroke-width="0.5"/>
<rect x="466.60" y="476.46" width="6.68" height="6.68" fill="#d9e2f0" stroke="#9a9a9a" stroke-width="0.5"/>
<rect x="473.28" y="476.46" width="6.68" height="6.68" fill="#fae1e1" stroke="#9a9a9a" stroke-width="0.5"/>
<rect x="479.96" y="476.46" width="6.68" height="6.68" fill="#e0e8f3" stroke="#9a9a9a" stroke-width="0.5"/>
<rect x="486.64" y="476.46" width="6.68" height="6.68" fill="#e0e8f3" stroke="#9a9a9a" stroke-width="0.5"/>
<rect x="493.32" y="476.46" width="6.68" height="6.68" fill="#d1dced" stroke="#9a9a9a" stroke-width="0.5"/>
<rect x="366.40" y="483.14" width="6.68" height="6.68" fill="#e0e8f3" stroke="#9a9a9a" stroke-width="0.5"/>
<rect x="373.08" y="483.14" width="6.68" height="6.68" fill="#d9e2f0" stroke="#9a9a9a" stroke-width="0.5"/>
<rect x="379.76" y="483.14" width="6.68" height="6.68" fill="#e0e8f3" stroke="#9a9a9a" stroke-width="0.5"/>
<rect x="386.44" y="483.14" width="6.68" height="6.68" fill="#e98585" stroke="#9a9a9a" stroke-width="0.5"/>
<rect x="393.12" y="483.14" width="6.68" height="6.68" fill="#e9eef6" stroke="#9a9a9a" stroke-width="0.5"/>
<rect x="399.80" y="483.14" width="6.68" height="6.68" fill="#cad6ea" stroke="#9a9a9a" stroke-width="0.5"/>
<rect x="406.48" y="483.14" width="6.68" height="6.68" fill="#e46969" stroke="#9a9a9a" stroke-width="0.5"/>
<rect x="413.16" y="483.14" width="6.68" height="6.68" fill="#d9e2f0" stroke="#9a9a9a" stroke-width="0.5"/>
<rect x="419.84" y="483.14" width="6.68" height="6.68" fill="#e88080" stroke="#9a9a9a" stroke-width="0.5"/>
<rect x="426.52" y="483.14" width="6.68" height="6.68" fill="#cad6ea" stroke="#9a9a9a" stroke-width="0.5"/>
<rect x="433.20" y="483.14" width="6.68" height="6.68" fill="#e9eef6" stroke="#9a9a9a" stroke-width="0.5"/>
<rect x="439.88" y="483.14" width="6.68" height="6.68" fill="#e0e8f3" stroke="#9a9a9a" stroke-width="0.5"/>
<rect x="446.56" y="483.14" width="6.68" height="6.68" fill="#d1dced" stroke="#9a9a9a" stroke-width="0.5"/>
<rect x="453.24" y="483.14" width="6.68" height="6.68" fill="#cad6ea" stroke="#9a9a9a" stroke-width="0.5"/>
<rect x="459.92" y="483.14" width="6.68" height="6.68" fill="#cad6ea" stroke="#9a9a9a" stroke-width="0.5"/>
<rect x="466.60" y="483.14" width="6.68" height="6.68" fill="#d1dced" stroke="#9a9a9a" stroke-width="0.5"/>
<rect x="473.28" y="483.14" width="6.68" height="6.68" fill="#fae1e1" stroke="#9a9a9a" stroke-width="0.5"/>
<rect x="479.96" y="483.14" width="6.68" height="6.68" fill="#d1dced" stroke="#9a9a9a" stroke-width="0.5"/>
<rect x="486.64" y="483.14" width="6.68" height="6.68" fill="#e0e8f3" stroke="#9a9a9a" stroke-width="0.5"/>
<rect x="493.32" y="483.14" width="6.68" height="6.68" fill="#d1dced" stroke="#9a9a9a" stroke-width="0.5"/>
<rect x="366.40" y="489.82" width="6.68" height="6.68" fill="#ffffff" stroke="#9a9a9a" stroke-width="0.5"/>
<rect x="373.08" y="489.82" width="6.68" height="6.68" fill="#f8d9d9" stroke="#9a9a9a" stroke-width="0.5"/>
<rect x="379.76" y="489.82" width="6.68" height="6.68" fill="#cad6ea" stroke="#9a9a9a" stroke-width="0.5"/>
<rect x="386.44" y="489.82" width="6.68" height="6.68" fill="#f3bcbc" stroke="#9a9a9a" stroke-width="0.5"/>
<rect x="393.12" y="489.82" width="6.68" height="6.68" fill="#ffffff" stroke="#9a9a9a" stroke-width="0.5"/>
<rect x="399.80" y="489.82" width="6.68" height="6.68" fill="#a9bddd" stroke="#9a9a9a" stroke-width="0.5"/>
<rect x="406.48" y="489.82" width="6.68" height="6.68" fill="#ed9d9d" stroke="#9a9a9a" stroke-width="0.5"/>
<rect x="413.16" y="489.82" width="6.68" height="6.68" fill="#d9e2f0" stroke="#9a9a9a" stroke-width="0.5"/>
<rect x="419.84" y="489.82" width="6.68" height="6.68" fill="#f2b6b6" stroke="#9a9a9a" stroke-width="0.5"/>
<rect x="426.52" y="489.82" width="6.68" height="6.68" fill="#a2b8da" stroke="#9a9a9a" stroke-width="0.5"/>
<rect x="433.20" y="489.82" width="6.68" height="6.68" fill="#f7d1d1" stroke="#9a9a9a" stroke-width="0.5"/>
<rect x="439.88" y="489.82" width="6.68" height="6.68" fill="#eea3a3" stroke="#9a9a9a" stroke-width="0.5"/>
<rect x="446.56" y="489.82" width="6.68" height="6.68" fill="#ffffff" stroke="#9a9a9a" stroke-width="0.5"/>
<rect x="453.24" y="489.82" width="6.68" height="6.68" fill="#ffffff" stroke="#9a9a9a" stroke-width="0.5"/>
<rect x="459.92" y="489.82" width="6.68" height="6.68" fill="#f6caca" stroke="#9a9a9a" stroke-width="0.5"/>
<rect x="466.60" y="489.82" width="6.68" height="6.68" fill="#e0e8f3" stroke="#9a9a9a" stroke-width="0.5"/>
<rect x="473.28" y="489.82" width="6.68" height="6.68" fill="#e9eef6" stroke="#9a9a9a" stroke-width="0.5"/>
<rect x="479.96" y="489.82" width="6.68" height="6.68" fill="#cad6ea" stroke="#9a9a9a" stroke-width="0.5"/>
<rect x="486.64" y="489.82" width="6.68" height="6.68" fill="#d1dced" stroke="#9a9a9a" stroke-width="0.5"/>
<rect x="493.32" y="489.82" width="6.68" height="6.68" fill="#cad6ea" stroke="#9a9a9a" stroke-width="0.5"/>
<rect x="366.40" y="496.50" width="6.68" height="6.68" fill="#f7d1d1" stroke="#9a9a9a" stroke-width="0.5"/>
<rect x="373.08" y="496.50" width="6.68" height="6.68" fill="#e0e8f3" stroke="#9a9a9a" stroke-width="0.5"/>
<rect x="379.76" y="496.50" width="6.68" height="6.68" fill="#ffffff" stroke="#9a9a9a" stroke-width="0.5"/>
<rect x="386.44" y="496.50" width="6.68" height="6.68" fill="#ffffff" stroke="#9a9a9a" stroke-width="0.5"/>
<rect x="393.12" y="496.50" width="6.68" height="6.68" fill="#d1dced" stroke="#9a9a9a" stroke-width="0.5"/>
<rect x="399.80" y="496.50" width="6.68" height="6.68" fill="#c3d1e7" stroke="#9a9a9a" stroke-width="0.5"/>
<rect x="406.48" y="496.50" width="6.68" height="6.68" fill="#eb9191" stroke="#9a9a9a" stroke-width="0.5"/>
<rect x="413.16" y="496.50" width="6.68" height="6.68" fill="#ffffff" stroke="#9a9a9a" stroke-width="0.5"/>
<rect x="419.84" y="496.50" width="6.68" height="6.68" fill="#ffffff" stroke="#9a9a9a" stroke-width="0.5"/>
<rect x="426.52" y="496.50" width="6.68" height="6.68" fill="#cad6ea" stroke="#9a9a9a" stroke-width="0.5"/>
<rect x="433.20" y="496.50" width="6.68" height="6.68" fill="#ffffff" stroke="#9a9a9a" stroke-width="0.5"/>
<rect x="439.88" y="496.50" width="6.68" height="6.68" fill="#e36464" stroke="#9a9a9a" stroke-width="0.5"/>
<rect x="446.56" y="496.50" width="6.68" height="6.68" fill="#e9eef6" stroke="#9a9a9a" stroke-width="0.5"/>
<rect x="453.24" y="496.50" width="6.68" height="6.68" fill="#d1dced" stroke="#9a9a9a" stroke-width="0.5"/>
<rect x="459.92" y="496.50" width="6.68" height="6.68" fill="#f7d1d1" stroke="#9a9a9a" stroke-width="0.5"/>
<rect x="466.60" y="496.50" width="6.68" height="6.68" fill="#e0e8f3" stroke="#9a9a9a" stroke-width="0.5"/>
<rect x="473.28" y="496.50" width="6.68" height="6.68" fill="#d1dced" stroke="#9a9a9a" stroke-width="0.5"/>
<rect x="479.96" y="496.50" width="6.68" height="6.68" fill="#e0e8f3" stroke="#9a9a9a" stroke-width="0.5"/>
<rect x="486.64" y="496.50" width="6.68" height="6.68" fill="#f7d1d1" stroke="#9a9a9a" stroke-width="0.5"/>
<rect x="493.32" y="496.50" width="6.68" height="6.68" fill="#e0e8f3" stroke="#9a9a9a" stroke-width="0.5"/>
<rect x="366.40" y="503.18" width="6.68" height="6.68" fill="#ffffff" stroke="#9a9a9a" stroke-width="0.5"/>
<rect x="373.08" y="503.18" width="6.68" height="6.68" fill="#f2b6b6" stroke="#9a9a9a" stroke-width="0.5"/>
<rect x="379.76" y="503.18" width="6.68" height="6.68" fill="#a9bddd" stroke="#9a9a9a" stroke-width="0.5"/>
<rect x="386.44" y="503.18" width="6.68" height="6.68" fill="#eea3a3" stroke="#9a9a9a" stroke-width="0.5"/>
<rect x="393.12" y="503.18" width="6.68" height="6.68" fill="#d9e2f0" stroke="#9a9a9a" stroke-width="0.5"/>
<rect x="399.80" y="503.18" width="6.68" height="6.68" fill="#c3d1e7" stroke="#9a9a9a" stroke-width="0.5"/>
<rect x="406.48" y="503.18" width="6.68" height="6.68" fill="#f0a9a9" stroke="#9a9a9a" stroke-width="0.5"/>
<rect x="413.16" y="503.18" width="6.68" height="6.68" fill="#f2b6b6" stroke="#9a9a9a" stroke-width="0.5"/>
<rect x="419.84" y="503.18" width="6.68" height="6.68" fill="#e0e8f3" stroke="#9a9a9a" stroke-width="0.5"/>
<rect x="426.52" y="503.18" width="6.68" height="6.68" fill="#f8d9d9" stroke="#9a9a9a" stroke-width="0.5"/>
<rect x="433.20" y="503.18" width="6.68" height="6.68" fill="#e0e8f3" stroke="#9a9a9a" stroke-width="0.5"/>
<rect x="439.88" y="503.18" width="6.68" height="6.68" fill="#ffffff" stroke="#9a9a9a" stroke-width="0.5"/>
<rect x="446.56" y="503.18" width="6.68" height="6.68" fill="#e9eef6" stroke="#9a9a9a" stroke-width="0.5"/>
<rect x="453.24" y="503.18" width="6.68" height="6.68" fill="#ea8b8b" stroke="#9a9a9a" stroke-width="0.5"/>
<rect x="459.92" y="503.18" width="6.68" height="6.68" fill="#d9e2f0" stroke="#9a9a9a" stroke-width="0.5"/>
<rect x="466.60" y="503.18" width="6.68" height="6.68" fill="#e0e8f3" stroke="#9a9a9a" stroke-width="0.5"/>
<rect x="473.28" y="503.18" width="6.68" height="6.68" fill="#e0e8f3" stroke="#9a9a9a" stroke-width="0.5"/>
<rect x="479.96" y="503.18" width="6.68" height="6.68" fill="#e0e8f3" stroke="#9a9a9a" stroke-width="0.5"/>
<rect x="486.64" y="503.18" width="6.68" height="6.68" fill="#e0e8f3" stroke="#9a9a9a" stroke-width="0.5"/>
<rect x="493.32" y="503.18" width="6.68" height="6.68" fill="#e0e8f3" stroke="#9a9a9a" stroke-width="0.5"/>
<rect x="366.40" y="509.86" width="6.68" height="6.68" fill="#e0e8f3" stroke="#9a9a9a" stroke-width="0.5"/>
<rect x="373.08" y="509.86" width="6.68" height="6.68" fill="#ffffff" stroke="#9a9a9a" stroke-width="0.5"/>
<rect x="379.76" y="509.86" width="6.68" height="6.68" fill="#d9e2f0" stroke="#9a9a9a" stroke-width="0.5"/>
<rect x="386.44" y="509.86" width="6.68" height="6.68" fill="#d9e2f0" stroke="#9a9a9a" stroke-width="0.5"/>
<rect x="393.12" y="509.86" width="6.68" height="6.68" fill="#e9eef6" stroke="#9a9a9a" stroke-width="0.5"/>
<rect x="399.80" y="509.86" width="6.68" height="6.68" fill="#d9e2f0" stroke="#9a9a9a" stroke-width="0.5"/>
<rect x="406.48" y="509.86" width="6.68" height="6.68" fill="#ffffff" stroke="#9a9a9a" stroke-width="0.5"/>
<rect x="413.16" y="509.86" width="6.68" height="6.68" fill="#e0e8f3" stroke="#9a9a9a" stroke-width="0.5"/>
<rect x="419.84" y="509.86" width="6.68" height="6.68" fill="#ffffff" stroke="#9a9a9a" stroke-width="0.5"/>
<rect x="426.52" y="509.86" width="6.68" height="6.68" fill="#e0e8f3" stroke="#9a9a9a" stroke-width="0.5"/>
<rect x="433.20" y="509.86" width="6.68" height="6.68" fill="#e9eef6" stroke="#9a9a9a" stroke-width="0.5"/>
<rect x="439.88" y="509.86" width="6.68" height="6.68" fill="#fae1e1" stroke="#9a9a9a" stroke-width="0.5"/>
<rect x="446.56" y="509.86" width="6.68" height="6.68" fill="#ffffff" stroke="#9a9a9a" stroke-width="0.5"/>
<rect x="453.24" y="509.86" width="6.68" height="6.68" fill="#df4f4f" stroke="#9a9a9a" stroke-width="0.5"/>
<rect x="459.92" y="509.86" width="6.68" height="6.68" fill="#ffffff" stroke="#9a9a9a" stroke-width="0.5"/>
<rect x="466.60" y="509.86" width="6.68" height="6.68" fill="#f7d1d1" stroke="#9a9a9a" stroke-width="0.5"/>
<rect x="473.28" y="509.86" width="6.68" height="6.68" fill="#e0e8f3" stroke="#9a9a9a" stroke-width="0.5"/>
<rect x="479.96" y="509.86" width="6.68" height="6.68" fill="#d1dced" stroke="#9a9a9a" stroke-width="0.5"/>
<rect x="486.64" y="509.86" width="6.68" height="6.68" fill="#e98585" stroke="#9a9a9a" stroke-width="0.5"/>
<rect x="493.32" y="509.86" width="6.68" height="6.68" fill="#ffffff" stroke="#9a9a9a" stroke-width="0.5"/>
<rect x="366.40" y="516.54" width="6.68" height="6.68" fill="#e0e8f3" stroke="#9a9a9a" stroke-width="0.5"/>
<rect x="373.08" y="516.54" width="6.68" height="6.68" fill="#e0e8f3" stroke="#9a9a9a" stroke-width="0.5"/>
<rect x="379.76" y="516.54" width="6.68" height="6.68" fill="#d9e2f0" stroke="#9a9a9a" stroke-width="0.5"/>
<rect x="386.44" y="516.54" width="6.68" height="6.68" fill="#ffffff" stroke="#9a9a9a" stroke-width="0.5"/>
<rect x="393.12" y="516.54" width="6.68" height="6.68" fill="#e0e8f3" stroke="#9a9a9a" stroke-width="0.5"/>
<rect x="399.80" y="516.54" width="6.68" height="6.68" fill="#d9e2f0" stroke="#9a9a9a" stroke-width="0.5"/>
<rect x="406.48" y="516.54" width="6.68" height="6.68" fill="#e0e8f3" stroke="#9a9a9a" stroke-width="0.5"/>
<rect x="413.16" y="516.54" width="6.68" height="6.68" fill="#d9e2f0" stroke="#9a9a9a" stroke-width="0.5"/>
<rect x="419.84" y="516.54" width="6.68" height="6.68" fill="#e0e8f3" stroke="#9a9a9a" stroke-width="0.5"/>
<rect x="426.52" y="516.54" width="6.68" height="6.68" fill="#fae1e1" stroke="#9a9a9a" stroke-width="0.5"/>
<rect x="433.20" y="516.54" width="6.68" height="6.68" fill="#e9eef6" stroke="#9a9a9a" stroke-width="0.5"/>
<rect x="439.88" y="516.54" width="6.68" height="6.68" fill="#fae1e1" stroke="#9a9a9a" stroke-width="0.5"/>
<rect x="446.56" y="516.54" width="6.68" height="6.68" fill="#d9e2f0" stroke="#9a9a9a" stroke-width="0.5"/>
<rect x="453.24" y="516.54" width="6.68" height="6.68" fill="#dd3f3f" stroke="#9a9a9a" stroke-width="0.5"/>
<rect x="459.92" y="516.54" width="6.68" height="6.68" fill="#ffffff" stroke="#9a9a9a" stroke-width="0.5"/>
<rect x="466.60" y="516.54" width="6.68" height="6.68" fill="#f4c3c3" stroke="#9a9a9a" stroke-width="0.5"/>
<rect x="473.28" y="516.54" width="6.68" height="6.68" fill="#e0e8f3" stroke="#9a9a9a" stroke-width="0.5"/>
<rect x="479.96" y="516.54" width="6.68" height="6.68" fill="#e0e8f3" stroke="#9a9a9a" stroke-width="0.5"/>
<rect x="486.64" y="516.54" width="6.68" height="6.68" fill="#e0e8f3" stroke="#9a9a9a" stroke-width="0.5"/>
<rect x="493.32" y="516.54" width="6.68" height="6.68" fill="#ffffff" stroke="#9a9a9a" stroke-width="0.5"/>
<rect x="366.40" y="523.22" width="6.68" height="6.68" fill="#c3d1e7" stroke="#9a9a9a" stroke-width="0.5"/>
<rect x="373.08" y="523.22" width="6.68" height="6.68" fill="#f7d1d1" stroke="#9a9a9a" stroke-width="0.5"/>
<rect x="379.76" y="523.22" width="6.68" height="6.68" fill="#fae1e1" stroke="#9a9a9a" stroke-width="0.5"/>
<rect x="386.44" y="523.22" width="6.68" height="6.68" fill="#fae1e1" stroke="#9a9a9a" stroke-width="0.5"/>
<rect x="393.12" y="523.22" width="6.68" height="6.68" fill="#fae1e1" stroke="#9a9a9a" stroke-width="0.5"/>
<rect x="399.80" y="523.22" width="6.68" height="6.68" fill="#a2b8da" stroke="#9a9a9a" stroke-width="0.5"/>
<rect x="406.48" y="523.22" width="6.68" height="6.68" fill="#e9eef6" stroke="#9a9a9a" stroke-width="0.5"/>
<rect x="413.16" y="523.22" width="6.68" height="6.68" fill="#e0e8f3" stroke="#9a9a9a" stroke-width="0.5"/>
<rect x="419.84" y="523.22" width="6.68" height="6.68" fill="#ffffff" stroke="#9a9a9a" stroke-width="0.5"/>
<rect x="426.52" y="523.22" width="6.68" height="6.68" fill="#ffffff" stroke="#9a9a9a" stroke-width="0.5"/>
<rect x="433.20" y="523.22" width="6.68" height="6.68" fill="#ed9d9d" stroke="#9a9a9a" stroke-width="0.5"/>
<rect x="439.88" y="523.22" width="6.68" height="6.68" fill="#ffffff" stroke="#9a9a9a" stroke-width="0.5"/>
<rect x="446.56" y="523.22" width="6.68" height="6.68" fill="#e67474" stroke="#9a9a9a" stroke-width="0.5"/>
<rect x="453.24" y="523.22" width="6.68" height="6.68" fill="#ffffff" stroke="#9a9a9a" stroke-width="0.5"/>
<rect x="459.92" y="523.22" width="6.68" height="6.68" fill="#f8d9d9" stroke="#9a9a9a" stroke-width="0.5"/>
<rect x="466.60" y="523.22" width="6.68" height="6.68" fill="#afc2df" stroke="#9a9a9a" stroke-width="0.5"/>
<rect x="473.28" y="523.22" width="6.68" height="6.68" fill="#e0e8f3" stroke="#9a9a9a" stroke-width="0.5"/>
<rect x="479.96" y="523.22" width="6.68" height="6.68" fill="#d1dced" stroke="#9a9a9a" stroke-width="0.5"/>
<rect x="486.64" y="523.22" width="6.68" height="6.68" fill="#d1dced" stroke="#9a9a9a" stroke-width="0.5"/>
<rect x="493.32" y="523.22" width="6.68" height="6.68" fill="#e0e8f3" stroke="#9a9a9a" stroke-width="0.5"/>
<rect x="366.40" y="529.90" width="6.68" height="6.68" fill="#f6caca" stroke="#9a9a9a" stroke-width="0.5"/>
<rect x="373.08" y="529.90" width="6.68" height="6.68" fill="#ffffff" stroke="#9a9a9a" stroke-width="0.5"/>
<rect x="379.76" y="529.90" width="6.68" height="6.68" fill="#afc2df" stroke="#9a9a9a" stroke-width="0.5"/>
<rect x="386.44" y="529.90" width="6.68" height="6.68" fill="#ffffff" stroke="#9a9a9a" stroke-width="0.5"/>
<rect x="393.12" y="529.90" width="6.68" height="6.68" fill="#ffffff" stroke="#9a9a9a" stroke-width="0.5"/>
<rect x="399.80" y="529.90" width="6.68" height="6.68" fill="#e0e8f3" stroke="#9a9a9a" stroke-width="0.5"/>
<rect x="406.48" y="529.90" width="6.68" height="6.68" fill="#e0e8f3" stroke="#9a9a9a" stroke-width="0.5"/>
<rect x="413.16" y="529.90" width="6.68" height="6.68" fill="#e0e8f3" stroke="#9a9a9a" stroke-width="0.5"/>
<rect x="419.84" y="529.90" width="6.68" height="6.68" fill="#afc2df" stroke="#9a9a9a" stroke-width="0.5"/>
<rect x="426.52" y="529.90" width="6.68" height="6.68" fill="#ffffff" stroke="#9a9a9a" stroke-width="0.5"/>
<rect x="433.20" y="529.90" width="6.68" height="6.68" fill="#eea3a3" stroke="#9a9a9a" stroke-width="0.5"/>
<rect x="439.88" y="529.90" width="6.68" height="6.68" fill="#f1afaf" stroke="#9a9a9a" stroke-width="0.5"/>
<rect x="446.56" y="529.90" width="6.68" height="6.68" fill="#e67474" stroke="#9a9a9a" stroke-width="0.5"/>
<rect x="453.24" y="529.90" width="6.68" height="6.68" fill="#fae1e1" stroke="#9a9a9a" stroke-width="0.5"/>
<rect x="459.92" y="529.90" width="6.68" height="6.68" fill="#ffffff" stroke="#9a9a9a" stroke-width="0.5"/>
<rect x="466.60" y="529.90" width="6.68" height="6.68" fill="#e0e8f3" stroke="#9a9a9a" stroke-width="0.5"/>
<rect x="473.28" y="529.90" width="6.68" height="6.68" fill="#d9e2f0" stroke="#9a9a9a" stroke-width="0.5"/>
<rect x="479.96" y="529.90" width="6.68" height="6.68" fill="#d1dced" stroke="#9a9a9a" stroke-width="0.5"/>
<rect x="486.64" y="529.90" width="6.68" height="6.68" fill="#d9e2f0" stroke="#9a9a9a" stroke-width="0.5"/>
<rect x="493.32" y="529.90" width="6.68" height="6.68" fill="#d9e2f0" stroke="#9a9a9a" stroke-width="0.5"/>
<rect x="366.40" y="536.58" width="6.68" height="6.68" fill="#f4c3c3" stroke="#9a9a9a" stroke-width="0.5"/>
<rect x="373.08" y="536.58" width="6.68" height="6.68" fill="#f6caca" stroke="#9a9a9a" stroke-width="0.5"/>
<rect x="379.76" y="536.58" width="6.68" height="6.68" fill="#d1dced" stroke="#9a9a9a" stroke-width="0.5"/>
<rect x="386.44" y="536.58" width="6.68" height="6.68" fill="#e46969" stroke="#9a9a9a" stroke-width="0.5"/>
<rect x="393.12" y="536.58" width="6.68" height="6.68" fill="#ffffff" stroke="#9a9a9a" stroke-width="0.5"/>
<rect x="399.80" y="536.58" width="6.68" height="6.68" fill="#d1dced" stroke="#9a9a9a" stroke-width="0.5"/>
<rect x="406.48" y="536.58" width="6.68" height="6.68" fill="#e0e8f3" stroke="#9a9a9a" stroke-width="0.5"/>
<rect x="413.16" y="536.58" width="6.68" height="6.68" fill="#f6caca" stroke="#9a9a9a" stroke-width="0.5"/>
<rect x="419.84" y="536.58" width="6.68" height="6.68" fill="#e0e8f3" stroke="#9a9a9a" stroke-width="0.5"/>
<rect x="426.52" y="536.58" width="6.68" height="6.68" fill="#d1dced" stroke="#9a9a9a" stroke-width="0.5"/>
<rect x="433.20" y="536.58" width="6.68" height="6.68" fill="#e9eef6" stroke="#9a9a9a" stroke-width="0.5"/>
<rect x="439.88" y="536.58" width="6.68" height="6.68" fill="#e0e8f3" stroke="#9a9a9a" stroke-width="0.5"/>
<rect x="446.56" y="536.58" width="6.68" height="6.68" fill="#e9eef6" stroke="#9a9a9a" stroke-width="0.5"/>
<rect x="453.24" y="536.58" width="6.68" height="6.68" fill="#d9e2f0" stroke="#9a9a9a" stroke-width="0.5"/>
<rect x="459.92" y="536.58" width="6.68" height="6.68" fill="#eea3a3" stroke="#9a9a9a" stroke-width="0.5"/>
<rect x="466.60" y="536.58" width="6.68" height="6.68" fill="#d1dced" stroke="#9a9a9a" stroke-width="0.5"/>
<rect x="473.28" y="536.58" width="6.68" height="6.68" fill="#d9e2f0" stroke="#9a9a9a" stroke-width="0.5"/>
<rect x="479.96" y="536.58" width="6.68" height="6.68" fill="#d1dced" stroke="#9a9a9a" stroke-width="0.5"/>
<rect x="486.64" y="536.58" width="6.68" height="6.68" fill="#ffffff" stroke="#9a9a9a" stroke-width="0.5"/>
<rect x="493.32" y="536.58" width="6.68" height="6.68" fill="#f7d1d1" stroke="#9a9a9a" stroke-width="0.5"/>
<rect x="366.40" y="543.26" width="6.68" height="6.68" fill="#f3bcbc" stroke="#9a9a9a" stroke-width="0.5"/>
<rect x="373.08" y="543.26" width="6.68" height="6.68" fill="#ffffff" stroke="#9a9a9a" stroke-width="0.5"/>
<rect x="379.76" y="543.26" width="6.68" height="6.68" fill="#d1dced" stroke="#9a9a9a" stroke-width="0.5"/>
<rect x="386.44" y="543.26" width="6.68" height="6.68" fill="#eea3a3" stroke="#9a9a9a" stroke-width="0.5"/>
<rect x="393.12" y="543.26" width="6.68" height="6.68" fill="#ffffff" stroke="#9a9a9a" stroke-width="0.5"/>
<rect x="399.80" y="543.26" width="6.68" height="6.68" fill="#e0e8f3" stroke="#9a9a9a" stroke-width="0.5"/>
<rect x="406.48" y="543.26" width="6.68" height="6.68" fill="#ffffff" stroke="#9a9a9a" stroke-width="0.5"/>
<rect x="413.16" y="543.26" width="6.68" height="6.68" fill="#d1dced" stroke="#9a9a9a" stroke-width="0.5"/>
<rect x="419.84" y="543.26" width="6.68" height="6.68" fill="#cad6ea" stroke="#9a9a9a" stroke-width="0.5"/>
<rect x="426.52" y="543.26" width="6.68" height="6.68" fill="#cad6ea" stroke="#9a9a9a" stroke-width="0.5"/>
<rect x="433.20" y="543.26" width="6.68" height="6.68" fill="#e46969" stroke="#9a9a9a" stroke-width="0.5"/>
<rect x="439.88" y="543.26" width="6.68" height="6.68" fill="#ffffff" stroke="#9a9a9a" stroke-width="0.5"/>
<rect x="446.56" y="543.26" width="6.68" height="6.68" fill="#d9e2f0" stroke="#9a9a9a" stroke-width="0.5"/>
<rect x="453.24" y="543.26" width="6.68" height="6.68" fill="#e9eef6" stroke="#9a9a9a" stroke-width="0.5"/>
<rect x="459.92" y="543.26" width="6.68" height="6.68" fill="#ffffff" stroke="#9a9a9a" stroke-width="0.5"/>
<rect x="466.60" y="543.26" width="6.68" height="6.68" fill="#ffffff" stroke="#9a9a9a" stroke-width="0.5"/>
<rect x="473.28" y="543.26" width="6.68" height="6.68" fill="#ffffff" stroke="#9a9a9a" stroke-width="0.5"/>
<rect x="479.96" y="543.26" width="6.68" height="6.68" fill="#f8d9d9" stroke="#9a9a9a" stroke-width="0.5"/>
<rect x="486.64" y="543.26" width="6.68" height="6.68" fill="#b5c7e2" stroke="#9a9a9a" stroke-width="0.5"/>
<rect x="493.32" y="543.26" width="6.68" height="6.68" fill="#f8d9d9" stroke="#9a9a9a" stroke-width="0.5"/>
<rect x="366.40" y="549.94" width="6.68" height="6.68" fill="#e0e8f3" stroke="#9a9a9a" stroke-width="0.5"/>
<rect x="373.08" y="549.94" width="6.68" height="6.68" fill="#ffffff" stroke="#9a9a9a" stroke-width="0.5"/>
<rect x="379.76" y="549.94" width="6.68" height="6.68" fill="#d1dced" stroke="#9a9a9a" stroke-width="0.5"/>
<rect x="386.44" y="549.94" width="6.68" height="6.68" fill="#eea3a3" stroke="#9a9a9a" stroke-width="0.5"/>
<rect x="393.12" y="549.94" width="6.68" height="6.68" fill="#d9e2f0" stroke="#9a9a9a" stroke-width="0.5"/>
<rect x="399.80" y="549.94" width="6.68" height="6.68" fill="#d9e2f0" stroke="#9a9a9a" stroke-width="0.5"/>
<rect x="406.48" y="549.94" width="6.68" height="6.68" fill="#d1dced" stroke="#9a9a9a" stroke-width="0.5"/>
<rect x="413.16" y="549.94" width="6.68" height="6.68" fill="#d1dced" stroke="#9a9a9a" stroke-width="0.5"/>
<rect x="419.84" y="549.94" width="6.68" height="6.68" fill="#cad6ea" stroke="#9a9a9a" stroke-width="0.5"/>
<rect x="426.52" y="549.94" width="6.68" height="6.68" fill="#cad6ea" stroke="#9a9a9a" stroke-width="0.5"/>
<rect x="433.20" y="549.94" width="6.68" height="6.68" fill="#eea3a3" stroke="#9a9a9a" stroke-width="0.5"/>
<rect x="439.88" y="549.94" width="6.68" height="6.68" fill="#eb9191" stroke="#9a9a9a" stroke-width="0.5"/>
<rect x="446.56" y="549.94" width="6.68" height="6.68" fill="#e0e8f3" stroke="#9a9a9a" stroke-width="0.5"/>
<rect x="453.24" y="549.94" width="6.68" height="6.68" fill="#ec9797" stroke="#9a9a9a" stroke-width="0.5"/>
<rect x="459.92" y="549.94" width="6.68" height="6.68" fill="#e0e8f3" stroke="#9a9a9a" stroke-width="0.5"/>
<rect x="466.60" y="549.94" width="6.68" height="6.68" fill="#d1dced" stroke="#9a9a9a" stroke-width="0.5"/>
<rect x="473.28" y="549.94" width="6.68" height="6.68" fill="#e0e8f3" stroke="#9a9a9a" stroke-width="0.5"/>
<rect x="479.96" y="549.94" width="6.68" height="6.68" fill="#e0e8f3" stroke="#9a9a9a" stroke-width="0.5"/>
<rect x="486.64" y="549.94" width="6.68" height="6.68" fill="#e9eef6" stroke="#9a9a9a" stroke-width="0.5"/>
<rect x="493.32" y="549.94" width="6.68" height="6.68" fill="#d1dced" stroke="#9a9a9a" stroke-width="0.5"/>
<rect x="366.40" y="556.62" width="6.68" height="6.68" fill="#f8d9d9" stroke="#9a9a9a" stroke-width="0.5"/>
<rect x="373.08" y="556.62" width="6.68" height="6.68" fill="#f8d9d9" stroke="#9a9a9a" stroke-width="0.5"/>
<rect x="379.76" y="556.62" width="6.68" height="6.68" fill="#d1dced" stroke="#9a9a9a" stroke-width="0.5"/>
<rect x="386.44" y="556.62" width="6.68" height="6.68" fill="#f2b6b6" stroke="#9a9a9a" stroke-width="0.5"/>
<rect x="393.12" y="556.62" width="6.68" height="6.68" fill="#d1dced" stroke="#9a9a9a" stroke-width="0.5"/>
<rect x="399.80" y="556.62" width="6.68" height="6.68" fill="#d1dced" stroke="#9a9a9a" stroke-width="0.5"/>
<rect x="406.48" y="556.62" width="6.68" height="6.68" fill="#d9e2f0" stroke="#9a9a9a" stroke-width="0.5"/>
<rect x="413.16" y="556.62" width="6.68" height="6.68" fill="#d9e2f0" stroke="#9a9a9a" stroke-width="0.5"/>
<rect x="419.84" y="556.62" width="6.68" height="6.68" fill="#d1dced" stroke="#9a9a9a" stroke-width="0.5"/>
<rect x="426.52" y="556.62" width="6.68" height="6.68" fill="#d1dced" stroke="#9a9a9a" stroke-width="0.5"/>
<rect x="433.20" y="556.62" width="6.68" height="6.68" fill="#ea8b8b" stroke="#9a9a9a" stroke-width="0.5"/>
<rect x="439.88" y="556.62" width="6.68" height="6.68" fill="#eea3a3" stroke="#9a9a9a" stroke-width="0.5"/>
<rect x="446.56" y="556.62" width="6.68" height="6.68" fill="#f4c3c3" stroke="#9a9a9a" stroke-width="0.5"/>
<rect x="453.24" y="556.62" width="6.68" height="6.68" fill="#f1afaf" stroke="#9a9a9a" stroke-width="0.5"/>
<rect x="459.92" y="556.62" width="6.68" height="6.68" fill="#d9e2f0" stroke="#9a9a9a" stroke-width="0.5"/>
<rect x="466.60" y="556.62" width="6.68" height="6.68" fill="#d9e2f0" stroke="#9a9a9a" stroke-width="0.5"/>
<rect x="473.28" y="556.62" width="6.68" height="6.68" fill="#d9e2f0" stroke="#9a9a9a" stroke-width="0.5"/>
<rect x="479.96" y="556.62" width="6.68" height="6.68" fill="#d9e2f0" stroke="#9a9a9a" stroke-width="0.5"/>
<rect x="486.64" y="556.62" width="6.68" height="6.68" fill="#e0e8f3" stroke="#9a9a9a" stroke-width="0.5"/>
<rect x="493.32" y="556.62" width="6.68" height="6.68" fill="#f6caca" stroke="#9a9a9a" stroke-width="0.5"/>
<text x="433.00" y="415.40" font-size="8.5" text-anchor="middle" fill="#000" font-family="Liberation Sans" font-weight="bold">Heatmap by genus</text>
<text x="501.60" y="426.20" font-size="6.8" text-anchor="start" fill="#000" font-family="Liberation Sans" font-weight="bold">Group</text>
<text x="501.90" y="435.34" font-size="6.65" text-anchor="start" fill="#1a1a1a" font-family="Liberation Sans" stroke="#1a1a1a" stroke-width="0.22">g__Clostridia_UCG−014</text>
<text x="501.90" y="442.02" font-size="6.65" text-anchor="start" fill="#1a1a1a" font-family="Liberation Sans" stroke="#1a1a1a" stroke-width="0.22">g__Muribaculaceae</text>
<text x="501.90" y="448.70" font-size="6.65" text-anchor="start" fill="#1a1a1a" font-family="Liberation Sans" stroke="#1a1a1a" stroke-width="0.22">g__Muribaculum</text>
<text x="501.90" y="455.38" font-size="6.65" text-anchor="start" fill="#1a1a1a" font-family="Liberation Sans" stroke="#1a1a1a" stroke-width="0.22">g__Lactobacillus</text>
<text x="501.90" y="462.06" font-size="6.65" text-anchor="start" fill="#1a1a1a" font-family="Liberation Sans" stroke="#1a1a1a" stroke-width="0.22">g__Rikenella</text>
<text x="501.90" y="468.74" font-size="6.65" text-anchor="start" fill="#1a1a1a" font-family="Liberation Sans" stroke="#1a1a1a" stroke-width="0.22">g__Enterorhabdus</text>
<text x="501.90" y="475.42" font-size="6.65" text-anchor="start" fill="#1a1a1a" font-family="Liberation Sans" stroke="#1a1a1a" stroke-width="0.22">g__Desulfovibrio</text>
<text x="501.90" y="482.10" font-size="6.65" text-anchor="start" fill="#1a1a1a" font-family="Liberation Sans" stroke="#1a1a1a" stroke-width="0.22">g__Roseburia</text>
<text x="501.90" y="488.78" font-size="6.65" text-anchor="start" fill="#1a1a1a" font-family="Liberation Sans" stroke="#1a1a1a" stroke-width="0.22">g__Blautia</text>
<text x="501.90" y="495.46" font-size="6.65" text-anchor="start" fill="#1a1a1a" font-family="Liberation Sans" stroke="#1a1a1a" stroke-width="0.22">g__Lachnospiraceae_NK4A136_group</text>
<text x="501.90" y="502.14" font-size="6.65" text-anchor="start" fill="#1a1a1a" font-family="Liberation Sans" stroke="#1a1a1a" stroke-width="0.22">g__A2</text>
<text x="501.90" y="508.82" font-size="6.65" text-anchor="start" fill="#1a1a1a" font-family="Liberation Sans" stroke="#1a1a1a" stroke-width="0.22">g__Alistipes</text>
<text x="501.90" y="515.50" font-size="6.65" text-anchor="start" fill="#1a1a1a" font-family="Liberation Sans" stroke="#1a1a1a" stroke-width="0.22">g__[Eubacterium]_xylanophilum_group</text>
<text x="501.90" y="522.18" font-size="6.65" text-anchor="start" fill="#1a1a1a" font-family="Liberation Sans" stroke="#1a1a1a" stroke-width="0.22">g__Lachnospiraceae_UCG−006</text>
<text x="501.90" y="528.86" font-size="6.65" text-anchor="start" fill="#1a1a1a" font-family="Liberation Sans" stroke="#1a1a1a" stroke-width="0.22">g__Helicobacter</text>
<text x="501.90" y="535.54" font-size="6.65" text-anchor="start" fill="#1a1a1a" font-family="Liberation Sans" stroke="#1a1a1a" stroke-width="0.22">g__Lachnoclostridium</text>
<text x="501.90" y="542.22" font-size="6.65" text-anchor="start" fill="#1a1a1a" font-family="Liberation Sans" stroke="#1a1a1a" stroke-width="0.22">g__Lachnospiraceae_UCG−001</text>
<text x="501.90" y="548.90" font-size="6.65" text-anchor="start" fill="#1a1a1a" font-family="Liberation Sans" stroke="#1a1a1a" stroke-width="0.22">g__Oscillibacter</text>
<text x="501.90" y="555.58" font-size="6.65" text-anchor="start" fill="#1a1a1a" font-family="Liberation Sans" stroke="#1a1a1a" stroke-width="0.22">g__Mucispirillum</text>
<text x="501.90" y="562.26" font-size="6.65" text-anchor="start" fill="#1a1a1a" font-family="Liberation Sans" stroke="#1a1a1a" stroke-width="0.22">g__Colidextribacter</text>
<text x="367.44" y="564.30" font-size="6.65" text-anchor="start" fill="#1a1a1a" font-family="Liberation Sans" transform="rotate(90 367.44 564.30)" stroke="#1a1a1a" stroke-width="0.22">NC1</text>
<text x="374.12" y="564.30" font-size="6.65" text-anchor="start" fill="#1a1a1a" font-family="Liberation Sans" transform="rotate(90 374.12 564.30)" stroke="#1a1a1a" stroke-width="0.22">NC2</text>
<text x="380.80" y="564.30" font-size="6.65" text-anchor="start" fill="#1a1a1a" font-family="Liberation Sans" transform="rotate(90 380.80 564.30)" stroke="#1a1a1a" stroke-width="0.22">NC3</text>
<text x="387.48" y="564.30" font-size="6.65" text-anchor="start" fill="#1a1a1a" font-family="Liberation Sans" transform="rotate(90 387.48 564.30)" stroke="#1a1a1a" stroke-width="0.22">NC4</text>
<text x="394.16" y="564.30" font-size="6.65" text-anchor="start" fill="#1a1a1a" font-family="Liberation Sans" transform="rotate(90 394.16 564.30)" stroke="#1a1a1a" stroke-width="0.22">NC5</text>
<text x="400.84" y="564.30" font-size="6.65" text-anchor="start" fill="#1a1a1a" font-family="Liberation Sans" transform="rotate(90 400.84 564.30)" stroke="#1a1a1a" stroke-width="0.22">CIA1</text>
<text x="407.52" y="564.30" font-size="6.65" text-anchor="start" fill="#1a1a1a" font-family="Liberation Sans" transform="rotate(90 407.52 564.30)" stroke="#1a1a1a" stroke-width="0.22">CIA2</text>
<text x="414.20" y="564.30" font-size="6.65" text-anchor="start" fill="#1a1a1a" font-family="Liberation Sans" transform="rotate(90 414.20 564.30)" stroke="#1a1a1a" stroke-width="0.22">CIA3</text>
<text x="420.88" y="564.30" font-size="6.65" text-anchor="start" fill="#1a1a1a" font-family="Liberation Sans" transform="rotate(90 420.88 564.30)" stroke="#1a1a1a" stroke-width="0.22">CIA4</text>
<text x="427.56" y="564.30" font-size="6.65" text-anchor="start" fill="#1a1a1a" font-family="Liberation Sans" transform="rotate(90 427.56 564.30)" stroke="#1a1a1a" stroke-width="0.22">CIA5</text>
<text x="434.24" y="564.30" font-size="6.65" text-anchor="start" fill="#1a1a1a" font-family="Liberation Sans" transform="rotate(90 434.24 564.30)" stroke="#1a1a1a" stroke-width="0.22">EtOH1</text>
<text x="440.92" y="564.30" font-size="6.65" text-anchor="start" fill="#1a1a1a" font-family="Liberation Sans" transform="rotate(90 440.92 564.30)" stroke="#1a1a1a" stroke-width="0.22">EtOH2</text>
<text x="447.60" y="564.30" font-size="6.65" text-anchor="start" fill="#1a1a1a" font-family="Liberation Sans" transform="rotate(90 447.60 564.30)" stroke="#1a1a1a" stroke-width="0.22">EtOH3</text>
<text x="454.28" y="564.30" font-size="6.65" text-anchor="start" fill="#1a1a1a" font-family="Liberation Sans" transform="rotate(90 454.28 564.30)" stroke="#1a1a1a" stroke-width="0.22">EtOH4</text>
<text x="460.96" y="564.30" font-size="6.65" text-anchor="start" fill="#1a1a1a" font-family="Liberation Sans" transform="rotate(90 460.96 564.30)" stroke="#1a1a1a" stroke-width="0.22">EtOH5</text>
<text x="467.64" y="564.30" font-size="6.65" text-anchor="start" fill="#1a1a1a" font-family="Liberation Sans" transform="rotate(90 467.64 564.30)" stroke="#1a1a1a" stroke-width="0.22">EtOH+CIA1</text>
<text x="474.32" y="564.30" font-size="6.65" text-anchor="start" fill="#1a1a1a" font-family="Liberation Sans" transform="rotate(90 474.32 564.30)" stroke="#1a1a1a" stroke-width="0.22">EtOH+CIA2</text>
<text x="481.00" y="564.30" font-size="6.65" text-anchor="start" fill="#1a1a1a" font-family="Liberation Sans" transform="rotate(90 481.00 564.30)" stroke="#1a1a1a" stroke-width="0.22">EtOH+CIA3</text>
<text x="487.68" y="564.30" font-size="6.65" text-anchor="start" fill="#1a1a1a" font-family="Liberation Sans" transform="rotate(90 487.68 564.30)" stroke="#1a1a1a" stroke-width="0.22">EtOH+CIA4</text>
<text x="494.36" y="564.30" font-size="6.65" text-anchor="start" fill="#1a1a1a" font-family="Liberation Sans" transform="rotate(90 494.36 564.30)" stroke="#1a1a1a" stroke-width="0.22">EtOH+CIA5</text>
<path d="M366.40 439.72H359.70V446.40H366.40 M366.40 433.04H356.30V443.06H359.70 M366.40 453.08H361.10V459.76H366.40 M366.40 466.44H361.60V473.12H366.40 M366.40 479.80H361.60V486.48H366.40 M361.60 469.78H358.50V483.14H361.60 M366.40 493.16H360.60V499.84H366.40 M358.50 476.46H358.00V496.50H360.60 M361.10 456.42H355.40V486.48H358.00 M366.40 513.20H360.60V519.88H366.40 M366.40 506.52H357.30V516.54H360.60 M366.40 526.56H360.10V533.24H366.40 M366.40 553.28H361.60V559.96H366.40 M366.40 546.60H359.70V556.62H361.60 M366.40 539.92H357.30V551.61H359.70 M360.10 529.90H355.90V545.76H357.30 M357.30 511.53H354.40V537.83H355.90 M355.40 471.45H353.50V524.68H354.40 M356.30 438.05H350.20V498.07H353.50" fill="none" stroke="#000" stroke-width="0.95"/>
<rect x="346.30" y="428.70" width="230.00" height="21.00" fill="none" stroke="#2b6cb8" stroke-width="1.1"/>
<rect x="346.30" y="468.40" width="230.00" height="21.00" fill="none" stroke="#e02a2a" stroke-width="1.1"/>
<rect x="622.40" y="419.20" width="6.50" height="2.55" fill="#da3030" stroke="none" stroke-width="0"/>
<rect x="622.40" y="421.70" width="6.50" height="2.55" fill="#dc3b3b" stroke="none" stroke-width="0"/>
<rect x="622.40" y="424.19" width="6.50" height="2.55" fill="#de4646" stroke="none" stroke-width="0"/>
<rect x="622.40" y="426.69" width="6.50" height="2.55" fill="#e05050" stroke="none" stroke-width="0"/>
<rect x="622.40" y="429.19" width="6.50" height="2.55" fill="#e25b5b" stroke="none" stroke-width="0"/>
<rect x="622.40" y="431.69" width="6.50" height="2.55" fill="#e36565" stroke="none" stroke-width="0"/>
<rect x="622.40" y="434.19" width="6.50" height="2.55" fill="#e57070" stroke="none" stroke-width="0"/>
<rect x="622.40" y="436.68" width="6.50" height="2.55" fill="#e77a7a" stroke="none" stroke-width="0"/>
<rect x="622.40" y="439.18" width="6.50" height="2.55" fill="#e98585" stroke="none" stroke-width="0"/>
<rect x="622.40" y="441.68" width="6.50" height="2.55" fill="#eb9090" stroke="none" stroke-width="0"/>
<rect x="622.40" y="444.18" width="6.50" height="2.55" fill="#ed9a9a" stroke="none" stroke-width="0"/>
<rect x="622.40" y="446.67" width="6.50" height="2.55" fill="#efa5a5" stroke="none" stroke-width="0"/>
<rect x="622.40" y="449.17" width="6.50" height="2.55" fill="#f1b0b0" stroke="none" stroke-width="0"/>
<rect x="622.40" y="451.67" width="6.50" height="2.55" fill="#f3baba" stroke="none" stroke-width="0"/>
<rect x="622.40" y="454.16" width="6.50" height="2.55" fill="#f5c5c5" stroke="none" stroke-width="0"/>
<rect x="622.40" y="456.66" width="6.50" height="2.55" fill="#f6cfcf" stroke="none" stroke-width="0"/>
<rect x="622.40" y="459.16" width="6.50" height="2.55" fill="#f8dada" stroke="none" stroke-width="0"/>
<rect x="622.40" y="461.66" width="6.50" height="2.55" fill="#fae4e4" stroke="none" stroke-width="0"/>
<rect x="622.40" y="464.15" width="6.50" height="2.55" fill="#fcefef" stroke="none" stroke-width="0"/>
<rect x="622.40" y="466.65" width="6.50" height="2.55" fill="#fefafa" stroke="none" stroke-width="0"/>
<rect x="622.40" y="469.15" width="6.50" height="2.55" fill="#fafbfd" stroke="none" stroke-width="0"/>
<rect x="622.40" y="471.65" width="6.50" height="2.55" fill="#eff3f9" stroke="none" stroke-width="0"/>
<rect x="622.40" y="474.14" width="6.50" height="2.55" fill="#e4ebf4" stroke="none" stroke-width="0"/>
<rect x="622.40" y="476.64" width="6.50" height="2.55" fill="#dae2f0" stroke="none" stroke-width="0"/>
<rect x="622.40" y="479.14" width="6.50" height="2.55" fill="#cfdaec" stroke="none" stroke-width="0"/>
<rect x="622.40" y="481.64" width="6.50" height="2.55" fill="#c4d2e8" stroke="none" stroke-width="0"/>
<rect x="622.40" y="484.13" width="6.50" height="2.55" fill="#bacae3" stroke="none" stroke-width="0"/>
<rect x="622.40" y="486.63" width="6.50" height="2.55" fill="#afc2df" stroke="none" stroke-width="0"/>
<rect x="622.40" y="489.13" width="6.50" height="2.55" fill="#a4badb" stroke="none" stroke-width="0"/>
<rect x="622.40" y="491.63" width="6.50" height="2.55" fill="#9ab2d7" stroke="none" stroke-width="0"/>
<rect x="622.40" y="494.12" width="6.50" height="2.55" fill="#8fa9d2" stroke="none" stroke-width="0"/>
<rect x="622.40" y="496.62" width="6.50" height="2.55" fill="#85a1ce" stroke="none" stroke-width="0"/>
<rect x="622.40" y="499.12" width="6.50" height="2.55" fill="#7a99ca" stroke="none" stroke-width="0"/>
<rect x="622.40" y="501.62" width="6.50" height="2.55" fill="#6f91c6" stroke="none" stroke-width="0"/>
<rect x="622.40" y="504.12" width="6.50" height="2.55" fill="#6589c1" stroke="none" stroke-width="0"/>
<rect x="622.40" y="506.61" width="6.50" height="2.55" fill="#5a81bd" stroke="none" stroke-width="0"/>
<rect x="622.40" y="509.11" width="6.50" height="2.55" fill="#4f79b9" stroke="none" stroke-width="0"/>
<rect x="622.40" y="511.61" width="6.50" height="2.55" fill="#4570b5" stroke="none" stroke-width="0"/>
<rect x="622.40" y="514.11" width="6.50" height="2.55" fill="#3a68b0" stroke="none" stroke-width="0"/>
<rect x="622.40" y="516.60" width="6.50" height="2.55" fill="#2f60ac" stroke="none" stroke-width="0"/>
<text x="631.60" y="433.00" font-size="6.8" text-anchor="start" fill="#1a1a1a" font-family="Liberation Sans" stroke="#1a1a1a" stroke-width="0.22">3</text>
<text x="631.60" y="446.00" font-size="6.8" text-anchor="start" fill="#1a1a1a" font-family="Liberation Sans" stroke="#1a1a1a" stroke-width="0.22">2</text>
<text x="631.60" y="459.00" font-size="6.8" text-anchor="start" fill="#1a1a1a" font-family="Liberation Sans" stroke="#1a1a1a" stroke-width="0.22">1</text>
<text x="631.60" y="471.90" font-size="6.8" text-anchor="start" fill="#1a1a1a" font-family="Liberation Sans" stroke="#1a1a1a" stroke-width="0.22">0</text>
<text x="631.60" y="484.90" font-size="6.8" text-anchor="start" fill="#1a1a1a" font-family="Liberation Sans" stroke="#1a1a1a" stroke-width="0.22">−1</text>
<text x="631.60" y="497.90" font-size="6.8" text-anchor="start" fill="#1a1a1a" font-family="Liberation Sans" stroke="#1a1a1a" stroke-width="0.22">−2</text>
<text x="631.60" y="510.90" font-size="6.8" text-anchor="start" fill="#1a1a1a" font-family="Liberation Sans" stroke="#1a1a1a" stroke-width="0.22">−3</text>
<text x="641.50" y="424.30" font-size="6.8" text-anchor="start" fill="#000" font-family="Liberation Sans" font-weight="bold">Group</text>
<rect x="641.70" y="426.40" width="9.00" height="9.60" fill="#dcc6e8" stroke="#999" stroke-width="0.6"/>
<text x="652.70" y="433.70" font-size="6.8" text-anchor="start" fill="#1a1a1a" font-family="Liberation Sans" stroke="#1a1a1a" stroke-width="0.22">NC</text>
<rect x="641.70" y="436.00" width="9.00" height="9.60" fill="#b9d9f1" stroke="#999" stroke-width="0.6"/>
<text x="652.70" y="443.30" font-size="6.8" text-anchor="start" fill="#1a1a1a" font-family="Liberation Sans" stroke="#1a1a1a" stroke-width="0.22">CIA</text>
<rect x="641.70" y="445.60" width="9.00" height="9.60" fill="#d4e6c4" stroke="#999" stroke-width="0.6"/>
<text x="652.70" y="452.90" font-size="6.8" text-anchor="start" fill="#1a1a1a" font-family="Liberation Sans" stroke="#1a1a1a" stroke-width="0.22">EtOH</text>
<rect x="641.70" y="455.20" width="9.00" height="9.60" fill="#fbd3b5" stroke="#999" stroke-width="0.6"/>
<text x="652.70" y="462.50" font-size="6.8" text-anchor="start" fill="#1a1a1a" font-family="Liberation Sans" stroke="#1a1a1a" stroke-width="0.22">EtOH+CIA</text>
<rect x="484.50" y="640.20" width="122.30" height="8.20" fill="#ef680f" stroke="#111" stroke-width="0.8"/>
<rect x="484.50" y="650.20" width="95.40" height="8.20" fill="#ef680f" stroke="#111" stroke-width="0.8"/>
<rect x="484.50" y="660.10" width="82.50" height="8.20" fill="#ef680f" stroke="#111" stroke-width="0.8"/>
<rect x="484.50" y="670.00" width="60.80" height="8.20" fill="#ef680f" stroke="#111" stroke-width="0.8"/>
<rect x="484.50" y="679.80" width="58.00" height="8.20" fill="#ef680f" stroke="#111" stroke-width="0.8"/>
<rect x="484.50" y="689.60" width="58.00" height="8.20" fill="#ef680f" stroke="#111" stroke-width="0.8"/>
<rect x="424.50" y="699.50" width="60.00" height="8.20" fill="#1a6fc2" stroke="#111" stroke-width="0.8"/>
<rect x="414.50" y="709.30" width="70.00" height="8.20" fill="#1a6fc2" stroke="#111" stroke-width="0.8"/>
<rect x="396.20" y="719.00" width="88.30" height="8.20" fill="#1a6fc2" stroke="#111" stroke-width="0.8"/>
<rect x="362.50" y="728.80" width="122.00" height="8.20" fill="#1a6fc2" stroke="#111" stroke-width="0.8"/>
<line x1="349.87" y1="634.80" x2="349.87" y2="745.20" stroke="#333" stroke-width="1.0" stroke-opacity="0.85"/>
<line x1="376.79" y1="634.80" x2="376.79" y2="745.20" stroke="#333" stroke-width="1.0" stroke-opacity="0.85"/>
<line x1="403.72" y1="634.80" x2="403.72" y2="745.20" stroke="#333" stroke-width="1.0" stroke-opacity="0.85"/>
<line x1="430.65" y1="634.80" x2="430.65" y2="745.20" stroke="#333" stroke-width="1.0" stroke-opacity="0.85"/>
<line x1="457.57" y1="634.80" x2="457.57" y2="745.20" stroke="#333" stroke-width="1.0" stroke-opacity="0.85"/>
<line x1="484.50" y1="634.80" x2="484.50" y2="745.20" stroke="#333" stroke-width="1.0" stroke-opacity="0.85"/>
<line x1="511.43" y1="634.80" x2="511.43" y2="745.20" stroke="#333" stroke-width="1.0" stroke-opacity="0.85"/>
<line x1="538.35" y1="634.80" x2="538.35" y2="745.20" stroke="#333" stroke-width="1.0" stroke-opacity="0.85"/>
<line x1="565.28" y1="634.80" x2="565.28" y2="745.20" stroke="#333" stroke-width="1.0" stroke-opacity="0.85"/>
<line x1="592.21" y1="634.80" x2="592.21" y2="745.20" stroke="#333" stroke-width="1.0" stroke-opacity="0.85"/>
<text x="481.30" y="646.70" font-size="6.95" text-anchor="end" fill="#111" font-family="Liberation Sans" stroke="#111" stroke-width="0.22">g__Muribaculaceae</text>
<text x="481.30" y="656.70" font-size="6.95" text-anchor="end" fill="#111" font-family="Liberation Sans" stroke="#111" stroke-width="0.22">g__Muribaculum</text>
<text x="481.30" y="666.60" font-size="6.95" text-anchor="end" fill="#111" font-family="Liberation Sans" stroke="#111" stroke-width="0.22">g__Eubacterium__siraeum_group</text>
<text x="481.30" y="676.50" font-size="6.95" text-anchor="end" fill="#111" font-family="Liberation Sans" stroke="#111" stroke-width="0.22">g__Ruminococcaceae</text>
<text x="481.30" y="686.30" font-size="6.95" text-anchor="end" fill="#111" font-family="Liberation Sans" stroke="#111" stroke-width="0.22">g__Paludicola</text>
<text x="481.30" y="696.10" font-size="6.95" text-anchor="end" fill="#111" font-family="Liberation Sans" stroke="#111" stroke-width="0.22">g__UCG_010</text>
<text x="487.10" y="706.00" font-size="6.95" text-anchor="start" fill="#111" font-family="Liberation Sans" stroke="#111" stroke-width="0.22">g__Facklamia</text>
<text x="487.10" y="715.80" font-size="6.95" text-anchor="start" fill="#111" font-family="Liberation Sans" stroke="#111" stroke-width="0.22">g__Corynebacterium</text>
<text x="487.10" y="725.50" font-size="6.95" text-anchor="start" fill="#111" font-family="Liberation Sans" stroke="#111" stroke-width="0.22">g__Staphylococcus</text>
<text x="487.10" y="735.30" font-size="6.95" text-anchor="start" fill="#111" font-family="Liberation Sans" stroke="#111" stroke-width="0.22">g__Lactobacillus</text>
<text x="349.87" y="756.00" font-size="9.6" text-anchor="middle" fill="#111" font-family="Liberation Sans" stroke="#111" stroke-width="0.22">−5.66</text>
<text x="376.79" y="756.00" font-size="9.6" text-anchor="middle" fill="#111" font-family="Liberation Sans" stroke="#111" stroke-width="0.22">−4.52</text>
<text x="403.72" y="756.00" font-size="9.6" text-anchor="middle" fill="#111" font-family="Liberation Sans" stroke="#111" stroke-width="0.22">−3.38</text>
<text x="430.65" y="756.00" font-size="9.6" text-anchor="middle" fill="#111" font-family="Liberation Sans" stroke="#111" stroke-width="0.22">−2.24</text>
<text x="457.57" y="756.00" font-size="9.6" text-anchor="middle" fill="#111" font-family="Liberation Sans" stroke="#111" stroke-width="0.22">−1.10</text>
<text x="484.50" y="756.00" font-size="9.6" text-anchor="middle" fill="#111" font-family="Liberation Sans" stroke="#111" stroke-width="0.22">0.04</text>
<text x="511.43" y="756.00" font-size="9.6" text-anchor="middle" fill="#111" font-family="Liberation Sans" stroke="#111" stroke-width="0.22">1.18</text>
<text x="538.35" y="756.00" font-size="9.6" text-anchor="middle" fill="#111" font-family="Liberation Sans" stroke="#111" stroke-width="0.22">2.32</text>
<text x="565.28" y="756.00" font-size="9.6" text-anchor="middle" fill="#111" font-family="Liberation Sans" stroke="#111" stroke-width="0.22">3.46</text>
<text x="592.21" y="756.00" font-size="9.6" text-anchor="middle" fill="#111" font-family="Liberation Sans" stroke="#111" stroke-width="0.22">4.60</text>
<text x="484.50" y="767.90" font-size="9.45" text-anchor="middle" fill="#111" font-family="Liberation Sans" stroke="#111" stroke-width="0.22">LDA SCORE (log 10)</text>
<rect x="353.50" y="620.90" width="18.60" height="7.00" fill="#1a6fc2" stroke="#111" stroke-width="0.8"/>
<text x="378.50" y="627.80" font-size="9.6" text-anchor="start" fill="#111" font-family="Liberation Sans" stroke="#111" stroke-width="0.22">CIA</text>
<rect x="411.30" y="620.90" width="18.60" height="7.00" fill="#ef680f" stroke="#111" stroke-width="0.8"/>
<text x="436.30" y="627.80" font-size="9.6" text-anchor="start" fill="#111" font-family="Liberation Sans" stroke="#111" stroke-width="0.22">EtOH+CIA</text>
</svg></body></html>
